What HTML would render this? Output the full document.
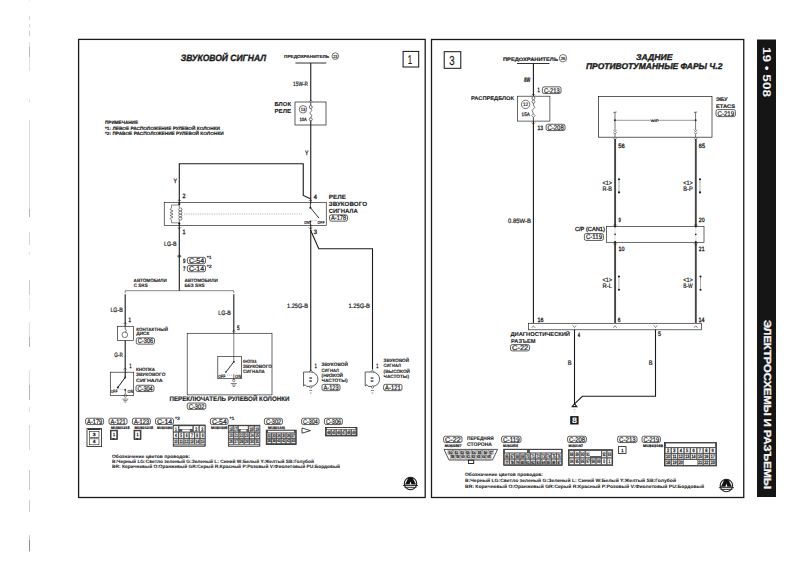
<!DOCTYPE html>
<html><head><meta charset="utf-8">
<style>
html,body{margin:0;padding:0;background:#fff;width:800px;height:580px;overflow:hidden}
svg{display:block;font-family:"Liberation Sans",sans-serif;text-rendering:geometricPrecision}
</style></head><body>
<svg width="800" height="580" viewBox="0 0 800 580">
<rect x="0" y="0" width="800" height="580" fill="#ffffff"/>

<polyline points="29.50,0.00 29.50,1.50" fill="none" stroke="#ddd" stroke-width="0.6" />
<polyline points="29.50,16.00 29.50,20.00" fill="none" stroke="#bbb" stroke-width="0.6" />
<polyline points="29.50,24.00 29.50,27.50" fill="none" stroke="#bbb" stroke-width="0.6" />
<polyline points="29.50,31.00 29.50,36.00" fill="none" stroke="#aaa" stroke-width="0.6" />
<polyline points="29.50,42.00 29.50,71.00" fill="none" stroke="#ccc" stroke-width="0.6" />
<polyline points="29.50,47.00 29.50,57.00" fill="none" stroke="#999" stroke-width="0.6" />
<polyline points="29.50,99.00 29.50,102.50" fill="none" stroke="#ccc" stroke-width="0.6" />
<polyline points="29.50,120.00 29.50,217.00" fill="none" stroke="#c4c4c4" stroke-width="0.6" />
<polyline points="29.50,209.00 29.50,217.00" fill="none" stroke="#999" stroke-width="0.6" />
<polyline points="29.50,232.00 29.50,245.00" fill="none" stroke="#bbb" stroke-width="0.6" />
<polyline points="29.50,252.00 29.50,255.00" fill="none" stroke="#ccc" stroke-width="0.6" />
<polyline points="29.50,280.00 29.50,295.00" fill="none" stroke="#aaa" stroke-width="0.6" />
<polyline points="29.50,297.00 29.50,310.00" fill="none" stroke="#d8d8d8" stroke-width="0.6" />
<polyline points="29.50,322.00 29.50,347.00" fill="none" stroke="#c8c8c8" stroke-width="0.6" />
<polyline points="29.50,337.00 29.50,347.00" fill="none" stroke="#999" stroke-width="0.6" />
<polyline points="29.50,370.00 29.50,400.00" fill="none" stroke="#c8c8c8" stroke-width="0.6" />
<polyline points="29.50,385.00 29.50,400.00" fill="none" stroke="#999" stroke-width="0.6" />
<polyline points="29.50,407.00 29.50,412.00" fill="none" stroke="#ccc" stroke-width="0.6" />
<polyline points="29.50,425.00 29.50,450.00" fill="none" stroke="#bbb" stroke-width="0.6" />
<polyline points="29.50,470.00 29.50,490.00" fill="none" stroke="#aaa" stroke-width="0.6" />
<polyline points="29.50,500.00 29.50,512.00" fill="none" stroke="#aaa" stroke-width="0.6" />
<polyline points="29.50,535.00 29.50,552.00" fill="none" stroke="#aaa" stroke-width="0.6" />
<polyline points="29.50,540.00 29.50,551.00" fill="none" stroke="#666" stroke-width="0.6" />
<rect x="78.60" y="39.40" width="346.60" height="458.10" fill="none" stroke="#1a1a1a" stroke-width="1.3" />
<rect x="431.50" y="39.50" width="312.25" height="458.00" fill="none" stroke="#1a1a1a" stroke-width="1.3" />
<rect x="757" y="39.5" width="19" height="457.5" fill="#151515"/>
<g transform="translate(766.5,72) rotate(90)"><text x="0" y="3.8" font-size="11.2" font-weight="bold" fill="#f4f4f4" text-anchor="middle" textLength="50" lengthAdjust="spacingAndGlyphs">19 • 508</text></g>
<g transform="translate(767.4,404.5) rotate(90)"><text x="0" y="3.6" font-size="10.2" font-weight="bold" fill="#f4f4f4" stroke="#f4f4f4" stroke-width="0.3" text-anchor="middle" textLength="169" lengthAdjust="spacingAndGlyphs">ЭЛЕКТРОСХЕМЫ И РАЗЪЕМЫ</text></g>
<rect x="403.10" y="51.40" width="15.60" height="15.60" fill="none" stroke="#111" stroke-width="1.0" />
<text x="407.80" y="63.88" font-size="12.8" font-weight="normal" font-style="normal" fill="#1a1a1a" stroke="#1a1a1a" stroke-width="0.2" textLength="4.40" lengthAdjust="spacingAndGlyphs" >1</text>
<rect x="444.20" y="51.70" width="16.60" height="16.60" fill="none" stroke="#111" stroke-width="1.0" />
<text x="449.20" y="64.65" font-size="13" font-weight="normal" font-style="normal" fill="#1a1a1a" stroke="#1a1a1a" stroke-width="0.2" textLength="5.40" lengthAdjust="spacingAndGlyphs" >3</text>
<text x="180.80" y="61.29" font-size="9.2" font-weight="bold" font-style="italic" fill="#1a1a1a" stroke="#1a1a1a" stroke-width="0.35" textLength="85.20" lengthAdjust="spacingAndGlyphs" >ЗВУКОВОЙ СИГНАЛ</text>
<text x="284.00" y="57.88" font-size="4.4" font-weight="bold" font-style="normal" fill="#1a1a1a" stroke="#1a1a1a" stroke-width="0.15" textLength="45.20" lengthAdjust="spacingAndGlyphs" >ПРЕДОХРАНИТЕЛЬ</text>
<circle cx="335.3" cy="56.1" r="3.3" fill="none" stroke="#1a1a1a" stroke-width="0.6"/>
<text x="333.25" y="57.60" font-size="4.2" font-weight="normal" font-style="normal" fill="#1a1a1a" stroke="#1a1a1a" stroke-width="0.2" textLength="4.09" lengthAdjust="spacingAndGlyphs" >23</text>
<polyline points="295.40,63.00 326.30,63.00" fill="none" stroke="#1a1a1a" stroke-width="0.9" />
<polyline points="310.75,63.00 310.75,101.00" fill="none" stroke="#1a1a1a" stroke-width="1.1" />
<text x="293.10" y="85.76" font-size="6.3" font-weight="normal" font-style="normal" fill="#1a1a1a" stroke="#1a1a1a" stroke-width="0.2" textLength="14.90" lengthAdjust="spacingAndGlyphs" >15W-R</text>
<rect x="295.00" y="102.00" width="31.00" height="23.00" fill="none" stroke="#1a1a1a" stroke-width="0.7" />
<text x="274.50" y="106.08" font-size="5.82" font-weight="bold" font-style="normal" fill="#1a1a1a" stroke="#1a1a1a" stroke-width="0.1" textLength="16.50" lengthAdjust="spacingAndGlyphs" >БЛОК</text>
<text x="274.50" y="113.08" font-size="5.82" font-weight="bold" font-style="normal" fill="#1a1a1a" stroke="#1a1a1a" stroke-width="0.1" textLength="16.50" lengthAdjust="spacingAndGlyphs" >РЕЛЕ</text>
<circle cx="303" cy="109.3" r="3.75" fill="none" stroke="#1a1a1a" stroke-width="0.6"/>
<text x="300.68" y="110.95" font-size="4.6" font-weight="normal" font-style="normal" fill="#1a1a1a" stroke="#1a1a1a" stroke-width="0.2" textLength="4.65" lengthAdjust="spacingAndGlyphs" >13</text>
<text x="299.60" y="120.72" font-size="4.8" font-weight="normal" font-style="normal" fill="#1a1a1a" stroke="#1a1a1a" stroke-width="0.25" textLength="7.20" lengthAdjust="spacingAndGlyphs" >10A</text>
<polyline points="310.75,102.00 310.75,105.50" fill="none" stroke="#1a1a1a" stroke-width="0.8" />
<circle cx="310.75" cy="107" r="1.5" fill="#fff" stroke="#1a1a1a" stroke-width="0.6"/>
<circle cx="310.75" cy="119.4" r="1.5" fill="#fff" stroke="#1a1a1a" stroke-width="0.6"/>
<polyline points="310.75,108.50 311.80,110.50 309.80,113.00 311.80,115.50 310.75,117.90" fill="none" stroke="#1a1a1a" stroke-width="0.6" />
<path d="M309.15,101.6 L310.75,100 L312.35,101.6" fill="none" stroke="#1a1a1a" stroke-width="0.55"/>
<polyline points="310.75,120.70 310.75,371.00" fill="none" stroke="#1a1a1a" stroke-width="1.1" />
<text x="305.00" y="155.22" font-size="6.2" font-weight="normal" font-style="normal" fill="#1a1a1a" stroke="#1a1a1a" stroke-width="0.3" textLength="3.50" lengthAdjust="spacingAndGlyphs" >Y</text>
<text x="173.50" y="182.72" font-size="6.2" font-weight="normal" font-style="normal" fill="#1a1a1a" stroke="#1a1a1a" stroke-width="0.3" textLength="3.50" lengthAdjust="spacingAndGlyphs" >Y</text>
<polyline points="179.30,290.70 179.30,163.75 303.25,163.75 303.25,195.50 310.50,198.75" fill="none" stroke="#1a1a1a" stroke-width="1.1" />
<rect x="164.25" y="202.50" width="162.00" height="23.00" fill="none" stroke="#1a1a1a" stroke-width="0.65" />
<polyline points="184.00,214.00 302.00,214.00" fill="none" stroke="#888" stroke-width="0.55" stroke-dasharray="1.3,1"/>
<rect x="177" y="205" width="5" height="18" fill="#fff"/>
<circle cx="179.3" cy="204" r="1.1" fill="#1a1a1a"/>
<circle cx="179.3" cy="223.5" r="1.1" fill="#1a1a1a"/>
<ellipse cx="180.3" cy="209.5" rx="1.6" ry="1.6" fill="none" stroke="#1a1a1a" stroke-width="0.55"/>
<ellipse cx="180.3" cy="212.5" rx="1.6" ry="1.6" fill="none" stroke="#1a1a1a" stroke-width="0.55"/>
<ellipse cx="180.3" cy="215.5" rx="1.6" ry="1.6" fill="none" stroke="#1a1a1a" stroke-width="0.55"/>
<ellipse cx="180.3" cy="218.5" rx="1.6" ry="1.6" fill="none" stroke="#1a1a1a" stroke-width="0.55"/>
<polyline points="179.30,204.00 179.30,207.80" fill="none" stroke="#1a1a1a" stroke-width="0.6" />
<polyline points="179.30,220.20 179.30,223.50" fill="none" stroke="#1a1a1a" stroke-width="0.6" />
<polyline points="179.30,205.00 171.50,205.00 171.50,208.00" fill="none" stroke="#1a1a1a" stroke-width="0.5" />
<polyline points="171.50,208.00 170.00,209.50 173.00,211.00 170.00,212.50 173.00,214.00 170.00,215.50 173.00,217.00 170.00,218.50 171.50,220.00" fill="none" stroke="#1a1a1a" stroke-width="0.55" />
<polyline points="171.50,220.00 171.50,222.80 179.30,222.80" fill="none" stroke="#1a1a1a" stroke-width="0.5" />
<path d="M177.70000000000002,201.1 L179.3,199.5 L180.9,201.1" fill="none" stroke="#1a1a1a" stroke-width="0.55"/>
<path d="M177.70000000000002,227.4 L179.3,229 L180.9,227.4" fill="none" stroke="#1a1a1a" stroke-width="0.55"/>
<text x="182.50" y="198.22" font-size="6.2" font-weight="normal" font-style="normal" fill="#1a1a1a" stroke="#1a1a1a" stroke-width="0.3" textLength="3.00" lengthAdjust="spacingAndGlyphs" >2</text>
<text x="182.50" y="234.22" font-size="6.2" font-weight="normal" font-style="normal" fill="#1a1a1a" stroke="#1a1a1a" stroke-width="0.3" textLength="3.00" lengthAdjust="spacingAndGlyphs" >1</text>
<rect x="308.5" y="203.5" width="4" height="21" fill="#fff"/>
<polyline points="310.40,202.30 310.40,207.70" fill="none" stroke="#1a1a1a" stroke-width="0.8" />
<circle cx="310.4" cy="207.7" r="1.0" fill="#1a1a1a"/>
<polyline points="310.40,207.70 318.90,218.00" fill="none" stroke="#1a1a1a" stroke-width="0.9" />
<text x="304.20" y="223.88" font-size="4.4" font-weight="bold" font-style="normal" fill="#1a1a1a" stroke="#1a1a1a" stroke-width="0.1" textLength="5.20" lengthAdjust="spacingAndGlyphs" >ON</text>
<text x="317.60" y="223.88" font-size="4.4" font-weight="bold" font-style="normal" fill="#1a1a1a" stroke="#1a1a1a" stroke-width="0.1" textLength="6.90" lengthAdjust="spacingAndGlyphs" >OFF</text>
<polyline points="311.50,220.50 317.00,220.50" fill="none" stroke="#666" stroke-width="0.5" stroke-dasharray="1,1"/>
<circle cx="310.4" cy="221.5" r="0.9" fill="#1a1a1a"/>
<polyline points="310.40,221.50 310.40,225.50" fill="none" stroke="#1a1a1a" stroke-width="0.8" />
<path d="M308.79999999999995,201.1 L310.4,199.5 L312.0,201.1" fill="none" stroke="#1a1a1a" stroke-width="0.55"/>
<path d="M308.79999999999995,227.4 L310.4,229 L312.0,227.4" fill="none" stroke="#1a1a1a" stroke-width="0.55"/>
<text x="313.70" y="198.72" font-size="6.2" font-weight="normal" font-style="normal" fill="#1a1a1a" stroke="#1a1a1a" stroke-width="0.3" textLength="3.20" lengthAdjust="spacingAndGlyphs" >4</text>
<text x="313.70" y="234.22" font-size="6.2" font-weight="normal" font-style="normal" fill="#1a1a1a" stroke="#1a1a1a" stroke-width="0.3" textLength="3.30" lengthAdjust="spacingAndGlyphs" >3</text>
<text x="328.75" y="198.71" font-size="6.16" font-weight="bold" font-style="normal" fill="#1a1a1a" stroke="#1a1a1a" stroke-width="0.1" textLength="17.25" lengthAdjust="spacingAndGlyphs" >РЕЛЕ</text>
<text x="328.75" y="206.01" font-size="6.16" font-weight="bold" font-style="normal" fill="#1a1a1a" stroke="#1a1a1a" stroke-width="0.1" textLength="38.25" lengthAdjust="spacingAndGlyphs" >ЗВУКОВОГО</text>
<text x="328.75" y="213.01" font-size="6.16" font-weight="bold" font-style="normal" fill="#1a1a1a" stroke="#1a1a1a" stroke-width="0.1" textLength="29.05" lengthAdjust="spacingAndGlyphs" >СИГНАЛА</text>
<rect x="329.50" y="214.85" width="18.00" height="6.3" rx="1.8" fill="none" stroke="#1a1a1a" stroke-width="0.7"/>
<text x="331.00" y="220.43" font-size="6.8" font-weight="normal" font-style="normal" fill="#1a1a1a" stroke="#1a1a1a" stroke-width="0.22" textLength="15.20" lengthAdjust="spacingAndGlyphs" >A-178</text>
<polyline points="310.50,230.00 318.75,248.75 372.50,248.75 372.50,369.50" fill="none" stroke="#1a1a1a" stroke-width="1.1" />
<text x="164.10" y="245.86" font-size="6.3" font-weight="normal" font-style="normal" fill="#1a1a1a" stroke="#1a1a1a" stroke-width="0.2" textLength="12.40" lengthAdjust="spacingAndGlyphs" >LG-B</text>
<circle cx="179.3" cy="256.2" r="1.3" fill="none" stroke="#1a1a1a" stroke-width="0.5"/>
<polyline points="177.30,256.20 181.30,256.20" fill="none" stroke="#1a1a1a" stroke-width="0.5" />
<text x="183.00" y="262.82" font-size="6.2" font-weight="normal" font-style="normal" fill="#1a1a1a" stroke="#1a1a1a" stroke-width="0.3" textLength="2.50" lengthAdjust="spacingAndGlyphs" >9</text>
<rect x="187.40" y="257.35" width="18.10" height="6.3" rx="1.8" fill="none" stroke="#1a1a1a" stroke-width="0.7"/>
<text x="188.90" y="262.93" font-size="6.8" font-weight="normal" font-style="normal" fill="#1a1a1a" stroke="#1a1a1a" stroke-width="0.22" textLength="15.30" lengthAdjust="spacingAndGlyphs" >C-54</text>
<text x="206.70" y="259.25" font-size="4.6" font-weight="normal" font-style="normal" fill="#1a1a1a" stroke="#1a1a1a" stroke-width="0.2" textLength="5.00" lengthAdjust="spacingAndGlyphs" >*1</text>
<text x="183.00" y="270.82" font-size="6.2" font-weight="normal" font-style="normal" fill="#1a1a1a" stroke="#1a1a1a" stroke-width="0.3" textLength="2.50" lengthAdjust="spacingAndGlyphs" >7</text>
<rect x="187.40" y="265.45" width="18.10" height="6.3" rx="1.8" fill="none" stroke="#1a1a1a" stroke-width="0.7"/>
<text x="188.90" y="271.03" font-size="6.8" font-weight="normal" font-style="normal" fill="#1a1a1a" stroke="#1a1a1a" stroke-width="0.22" textLength="15.30" lengthAdjust="spacingAndGlyphs" >C-14</text>
<text x="206.70" y="267.65" font-size="4.6" font-weight="normal" font-style="normal" fill="#1a1a1a" stroke="#1a1a1a" stroke-width="0.2" textLength="5.00" lengthAdjust="spacingAndGlyphs" >*2</text>
<text x="133.60" y="281.53" font-size="4.82" font-weight="bold" font-style="normal" fill="#1a1a1a" stroke="#1a1a1a" stroke-width="0.1" textLength="33.30" lengthAdjust="spacingAndGlyphs" >АВТОМОБИЛИ</text>
<text x="133.75" y="287.33" font-size="4.82" font-weight="bold" font-style="normal" fill="#1a1a1a" stroke="#1a1a1a" stroke-width="0.1" textLength="13.95" lengthAdjust="spacingAndGlyphs" >С SRS</text>
<text x="184.40" y="281.53" font-size="4.82" font-weight="bold" font-style="normal" fill="#1a1a1a" stroke="#1a1a1a" stroke-width="0.1" textLength="33.30" lengthAdjust="spacingAndGlyphs" >АВТОМОБИЛИ</text>
<text x="184.40" y="287.33" font-size="4.82" font-weight="bold" font-style="normal" fill="#1a1a1a" stroke="#1a1a1a" stroke-width="0.1" textLength="20.20" lengthAdjust="spacingAndGlyphs" >БЕЗ SRS</text>
<polyline points="125.20,293.00 125.20,290.70 233.80,290.70 233.80,293.00" fill="none" stroke="#333" stroke-width="0.6" />
<polyline points="125.20,294.30 125.20,326.30" fill="none" stroke="#1a1a1a" stroke-width="1.1" />
<text x="110.40" y="312.06" font-size="6.3" font-weight="normal" font-style="normal" fill="#1a1a1a" stroke="#1a1a1a" stroke-width="0.2" textLength="12.40" lengthAdjust="spacingAndGlyphs" >LG-B</text>
<text x="128.50" y="321.92" font-size="6.2" font-weight="normal" font-style="normal" fill="#1a1a1a" stroke="#1a1a1a" stroke-width="0.3" textLength="2.50" lengthAdjust="spacingAndGlyphs" >1</text>
<rect x="117.60" y="326.30" width="15.90" height="14.20" fill="none" stroke="#1a1a1a" stroke-width="0.65" />
<circle cx="124.8" cy="334.8" r="2.8" fill="none" stroke="#1a1a1a" stroke-width="0.6"/>
<path d="M125.2,326.3 L125.2,329 Q127.5,330.5 125.5,332.2" fill="none" stroke="#1a1a1a" stroke-width="0.6"/>
<path d="M123.60000000000001,324.1 L125.2,322.5 L126.8,324.1" fill="none" stroke="#1a1a1a" stroke-width="0.55"/>
<text x="136.25" y="330.63" font-size="4.82" font-weight="bold" font-style="normal" fill="#1a1a1a" stroke="#1a1a1a" stroke-width="0.1" textLength="31.75" lengthAdjust="spacingAndGlyphs" >КОНТАКТНЫЙ</text>
<text x="136.25" y="335.48" font-size="4.82" font-weight="bold" font-style="normal" fill="#1a1a1a" stroke="#1a1a1a" stroke-width="0.1" textLength="13.25" lengthAdjust="spacingAndGlyphs" >ДИСК</text>
<rect x="136.25" y="337.85" width="18.25" height="6.3" rx="1.8" fill="none" stroke="#1a1a1a" stroke-width="0.7"/>
<text x="137.75" y="343.43" font-size="6.8" font-weight="normal" font-style="normal" fill="#1a1a1a" stroke="#1a1a1a" stroke-width="0.22" textLength="15.45" lengthAdjust="spacingAndGlyphs" >C-306</text>
<polyline points="125.20,340.50 125.20,377.50" fill="none" stroke="#1a1a1a" stroke-width="1.1" />
<text x="114.20" y="357.06" font-size="6.3" font-weight="normal" font-style="normal" fill="#1a1a1a" stroke="#1a1a1a" stroke-width="0.2" textLength="8.60" lengthAdjust="spacingAndGlyphs" >G-R</text>
<text x="129.60" y="367.72" font-size="6.2" font-weight="normal" font-style="normal" fill="#1a1a1a" stroke="#1a1a1a" stroke-width="0.3" textLength="2.00" lengthAdjust="spacingAndGlyphs" >1</text>
<rect x="110.30" y="372.20" width="23.40" height="23.30" fill="none" stroke="#1a1a1a" stroke-width="0.65" />
<path d="M123.60000000000001,369.6 L125.2,368 L126.8,369.6" fill="none" stroke="#1a1a1a" stroke-width="0.55"/>
<circle cx="125.2" cy="377.5" r="0.9" fill="#1a1a1a"/>
<polyline points="125.20,377.40 117.80,387.50" fill="none" stroke="#1a1a1a" stroke-width="1.0" />
<circle cx="117.8" cy="387.5" r="1.0" fill="#1a1a1a"/>
<text x="110.80" y="393.45" font-size="4.6" font-weight="bold" font-style="normal" fill="#1a1a1a" stroke="#1a1a1a" stroke-width="0.1" textLength="6.60" lengthAdjust="spacingAndGlyphs" >OFF</text>
<text x="127.50" y="393.45" font-size="4.6" font-weight="bold" font-style="normal" fill="#1a1a1a" stroke="#1a1a1a" stroke-width="0.1" textLength="5.70" lengthAdjust="spacingAndGlyphs" >ON</text>
<polyline points="118.50,389.00 125.00,389.80" fill="none" stroke="#666" stroke-width="0.5" stroke-dasharray="1,1"/>
<circle cx="125.3" cy="389.8" r="0.9" fill="#1a1a1a"/>
<path d="M125.3,393.9 L127,395.7 L125.3,397.5 L123.6,395.7 Z" fill="none" stroke="#1a1a1a" stroke-width="0.55"/>
<polyline points="125.30,389.80 125.30,393.90" fill="none" stroke="#1a1a1a" stroke-width="0.6" />
<polyline points="122.30,399.10 128.30,399.10" fill="none" stroke="#1a1a1a" stroke-width="0.55" />
<polyline points="123.30,400.60 127.30,400.60" fill="none" stroke="#1a1a1a" stroke-width="0.55" />
<polyline points="124.30,402.10 126.30,402.10" fill="none" stroke="#1a1a1a" stroke-width="0.55" />
<text x="136.00" y="371.13" font-size="4.82" font-weight="bold" font-style="normal" fill="#1a1a1a" stroke="#1a1a1a" stroke-width="0.1" textLength="19.00" lengthAdjust="spacingAndGlyphs" >КНОПКА</text>
<text x="136.00" y="376.43" font-size="4.82" font-weight="bold" font-style="normal" fill="#1a1a1a" stroke="#1a1a1a" stroke-width="0.1" textLength="29.50" lengthAdjust="spacingAndGlyphs" >ЗВУКОВОГО</text>
<text x="136.00" y="382.13" font-size="4.82" font-weight="bold" font-style="normal" fill="#1a1a1a" stroke="#1a1a1a" stroke-width="0.1" textLength="26.60" lengthAdjust="spacingAndGlyphs" >СИГНАЛА</text>
<rect x="136.00" y="385.25" width="18.00" height="6.3" rx="1.8" fill="none" stroke="#1a1a1a" stroke-width="0.7"/>
<text x="137.50" y="390.83" font-size="6.8" font-weight="normal" font-style="normal" fill="#1a1a1a" stroke="#1a1a1a" stroke-width="0.22" textLength="15.20" lengthAdjust="spacingAndGlyphs" >C-304</text>
<polyline points="233.80,294.30 233.80,333.30" fill="none" stroke="#1a1a1a" stroke-width="1.1" />
<text x="218.30" y="315.46" font-size="6.3" font-weight="normal" font-style="normal" fill="#1a1a1a" stroke="#1a1a1a" stroke-width="0.2" textLength="12.40" lengthAdjust="spacingAndGlyphs" >LG-B</text>
<text x="236.90" y="330.32" font-size="6.2" font-weight="normal" font-style="normal" fill="#1a1a1a" stroke="#1a1a1a" stroke-width="0.3" textLength="2.60" lengthAdjust="spacingAndGlyphs" >5</text>
<rect x="187.20" y="333.30" width="84.80" height="61.60" fill="none" stroke="#1a1a1a" stroke-width="0.65" />
<path d="M232.20000000000002,331.6 L233.8,330 L235.4,331.6" fill="none" stroke="#1a1a1a" stroke-width="0.55"/>
<polyline points="233.80,333.30 233.80,361.80" fill="none" stroke="#1a1a1a" stroke-width="0.55" />
<rect x="217.80" y="356.60" width="23.80" height="22.10" fill="none" stroke="#1a1a1a" stroke-width="0.65" />
<circle cx="233.8" cy="361.8" r="0.9" fill="#1a1a1a"/>
<polyline points="233.80,361.80 225.90,372.10" fill="none" stroke="#1a1a1a" stroke-width="0.9" />
<circle cx="225.9" cy="372.1" r="0.8" fill="#1a1a1a"/>
<text x="218.30" y="378.35" font-size="4.6" font-weight="bold" font-style="normal" fill="#1a1a1a" stroke="#1a1a1a" stroke-width="0.1" textLength="7.20" lengthAdjust="spacingAndGlyphs" >OFF</text>
<text x="235.00" y="378.35" font-size="4.6" font-weight="bold" font-style="normal" fill="#1a1a1a" stroke="#1a1a1a" stroke-width="0.1" textLength="6.20" lengthAdjust="spacingAndGlyphs" >ON</text>
<polyline points="227.00,375.20 233.00,375.20" fill="none" stroke="#666" stroke-width="0.5" stroke-dasharray="1,1"/>
<polyline points="233.80,374.00 233.80,380.00" fill="none" stroke="#1a1a1a" stroke-width="0.6" />
<circle cx="233.8" cy="380.5" r="1.2" fill="none" stroke="#1a1a1a" stroke-width="0.5"/>
<polyline points="230.80,383.50 236.80,383.50" fill="none" stroke="#1a1a1a" stroke-width="0.55" />
<polyline points="231.80,385.00 235.80,385.00" fill="none" stroke="#1a1a1a" stroke-width="0.55" />
<polyline points="232.80,386.50 234.80,386.50" fill="none" stroke="#1a1a1a" stroke-width="0.55" />
<text x="243.00" y="363.33" font-size="4.82" font-weight="bold" font-style="normal" fill="#1a1a1a" stroke="#1a1a1a" stroke-width="0.1" textLength="13.50" lengthAdjust="spacingAndGlyphs" >КНОПКА</text>
<text x="243.00" y="368.03" font-size="4.82" font-weight="bold" font-style="normal" fill="#1a1a1a" stroke="#1a1a1a" stroke-width="0.1" textLength="29.00" lengthAdjust="spacingAndGlyphs" >ЗВУКОВОГО</text>
<text x="243.00" y="373.23" font-size="4.82" font-weight="bold" font-style="normal" fill="#1a1a1a" stroke="#1a1a1a" stroke-width="0.1" textLength="21.80" lengthAdjust="spacingAndGlyphs" >СИГНАЛА</text>
<text x="169.50" y="400.76" font-size="6.6" font-weight="bold" font-style="normal" fill="#1a1a1a" stroke="#1a1a1a" stroke-width="0.15" textLength="119.90" lengthAdjust="spacingAndGlyphs" >ПЕРЕКЛЮЧАТЕЛЬ РУЛЕВОЙ КОЛОНКИ</text>
<rect x="187.20" y="403.05" width="18.60" height="6.3" rx="1.8" fill="none" stroke="#1a1a1a" stroke-width="0.7"/>
<text x="188.70" y="408.63" font-size="6.8" font-weight="normal" font-style="normal" fill="#1a1a1a" stroke="#1a1a1a" stroke-width="0.22" textLength="15.80" lengthAdjust="spacingAndGlyphs" >C-302</text>
<text x="287.00" y="307.86" font-size="6.3" font-weight="normal" font-style="normal" fill="#1a1a1a" stroke="#1a1a1a" stroke-width="0.2" textLength="21.00" lengthAdjust="spacingAndGlyphs" >1.25G-B</text>
<text x="348.40" y="307.86" font-size="6.3" font-weight="normal" font-style="normal" fill="#1a1a1a" stroke="#1a1a1a" stroke-width="0.2" textLength="21.60" lengthAdjust="spacingAndGlyphs" >1.25G-B</text>
<path d="M303.55,372.0 L310.75,372.0 A7.2,7.2 0 0 1 310.75,386.4 L306.75,386.4 L305.25,384.7 L303.55,386.0 Z" fill="none" stroke="#1a1a1a" stroke-width="0.7"/>
<text x="309.15" y="378.93" font-size="2.6" font-weight="normal" font-style="normal" fill="#1a1a1a" stroke="#1a1a1a" stroke-width="0.15" textLength="2.60" lengthAdjust="spacingAndGlyphs" >33</text>
<text x="309.15" y="382.43" font-size="2.6" font-weight="normal" font-style="normal" fill="#1a1a1a" stroke="#1a1a1a" stroke-width="0.15" textLength="2.60" lengthAdjust="spacingAndGlyphs" >88</text>
<path d="M308.95,372.0 L310.75,370.0 L312.55,372.0" fill="none" stroke="#1a1a1a" stroke-width="0.55"/>
<circle cx="310.75" cy="387.0" r="1.2" fill="#fff" stroke="#1a1a1a" stroke-width="0.5"/>
<polyline points="309.25,390.50 312.25,390.50" fill="none" stroke="#1a1a1a" stroke-width="0.5" />
<polyline points="309.95,393.00 311.55,393.00" fill="none" stroke="#1a1a1a" stroke-width="0.5" />
<path d="M365.2,372.0 L372.4,372.0 A7.2,7.2 0 0 1 372.4,386.4 L368.4,386.4 L366.9,384.7 L365.2,386.0 Z" fill="none" stroke="#1a1a1a" stroke-width="0.7"/>
<text x="370.80" y="378.93" font-size="2.6" font-weight="normal" font-style="normal" fill="#1a1a1a" stroke="#1a1a1a" stroke-width="0.15" textLength="2.60" lengthAdjust="spacingAndGlyphs" >33</text>
<text x="370.80" y="382.43" font-size="2.6" font-weight="normal" font-style="normal" fill="#1a1a1a" stroke="#1a1a1a" stroke-width="0.15" textLength="2.60" lengthAdjust="spacingAndGlyphs" >88</text>
<path d="M370.59999999999997,372.0 L372.4,370.0 L374.2,372.0" fill="none" stroke="#1a1a1a" stroke-width="0.55"/>
<circle cx="372.4" cy="387.0" r="1.2" fill="#fff" stroke="#1a1a1a" stroke-width="0.5"/>
<polyline points="370.90,390.50 373.90,390.50" fill="none" stroke="#1a1a1a" stroke-width="0.5" />
<polyline points="371.60,393.00 373.20,393.00" fill="none" stroke="#1a1a1a" stroke-width="0.5" />
<text x="314.70" y="367.52" font-size="6.2" font-weight="normal" font-style="normal" fill="#1a1a1a" stroke="#1a1a1a" stroke-width="0.3" textLength="2.10" lengthAdjust="spacingAndGlyphs" >1</text>
<text x="376.20" y="367.52" font-size="6.2" font-weight="normal" font-style="normal" fill="#1a1a1a" stroke="#1a1a1a" stroke-width="0.3" textLength="2.10" lengthAdjust="spacingAndGlyphs" >1</text>
<text x="321.60" y="366.33" font-size="4.82" font-weight="bold" font-style="normal" fill="#1a1a1a" stroke="#1a1a1a" stroke-width="0.1" textLength="26.30" lengthAdjust="spacingAndGlyphs" >ЗВУКОВОЙ</text>
<text x="321.60" y="371.73" font-size="4.82" font-weight="bold" font-style="normal" fill="#1a1a1a" stroke="#1a1a1a" stroke-width="0.1" textLength="17.40" lengthAdjust="spacingAndGlyphs" >СИГНАЛ</text>
<text x="321.60" y="377.03" font-size="4.82" font-weight="bold" font-style="normal" fill="#1a1a1a" stroke="#1a1a1a" stroke-width="0.1" textLength="21.40" lengthAdjust="spacingAndGlyphs" >(НИЗКОЙ</text>
<text x="321.60" y="382.23" font-size="4.82" font-weight="bold" font-style="normal" fill="#1a1a1a" stroke="#1a1a1a" stroke-width="0.1" textLength="25.90" lengthAdjust="spacingAndGlyphs" >ЧАСТОТЫ)</text>
<rect x="322.00" y="384.35" width="18.00" height="6.3" rx="1.8" fill="none" stroke="#1a1a1a" stroke-width="0.7"/>
<text x="323.50" y="389.93" font-size="6.8" font-weight="normal" font-style="normal" fill="#1a1a1a" stroke="#1a1a1a" stroke-width="0.22" textLength="15.20" lengthAdjust="spacingAndGlyphs" >A-123</text>
<text x="383.60" y="361.73" font-size="4.82" font-weight="bold" font-style="normal" fill="#1a1a1a" stroke="#1a1a1a" stroke-width="0.1" textLength="25.40" lengthAdjust="spacingAndGlyphs" >ЗВУКОВОЙ</text>
<text x="383.60" y="367.23" font-size="4.82" font-weight="bold" font-style="normal" fill="#1a1a1a" stroke="#1a1a1a" stroke-width="0.1" textLength="17.40" lengthAdjust="spacingAndGlyphs" >СИГНАЛ</text>
<text x="383.60" y="372.73" font-size="4.82" font-weight="bold" font-style="normal" fill="#1a1a1a" stroke="#1a1a1a" stroke-width="0.1" textLength="26.40" lengthAdjust="spacingAndGlyphs" >(ВЫСОКОЙ</text>
<text x="383.60" y="378.23" font-size="4.82" font-weight="bold" font-style="normal" fill="#1a1a1a" stroke="#1a1a1a" stroke-width="0.1" textLength="25.40" lengthAdjust="spacingAndGlyphs" >ЧАСТОТЫ)</text>
<rect x="383.60" y="384.35" width="18.40" height="6.3" rx="1.8" fill="none" stroke="#1a1a1a" stroke-width="0.7"/>
<text x="385.10" y="389.93" font-size="6.8" font-weight="normal" font-style="normal" fill="#1a1a1a" stroke="#1a1a1a" stroke-width="0.22" textLength="15.60" lengthAdjust="spacingAndGlyphs" >A-121</text>
<text x="105.00" y="124.05" font-size="4.6" font-weight="bold" font-style="normal" fill="#1a1a1a" stroke="#1a1a1a" stroke-width="0.15" textLength="33.00" lengthAdjust="spacingAndGlyphs" >ПРИМЕЧАНИЕ</text>
<text x="105.00" y="129.65" font-size="4.6" font-weight="bold" font-style="normal" fill="#1a1a1a" stroke="#1a1a1a" stroke-width="0.15" textLength="115.00" lengthAdjust="spacingAndGlyphs" >*1: ЛЕВОЕ РАСПОЛОЖЕНИЕ РУЛЕВОЙ КОЛОНКИ</text>
<text x="105.00" y="134.75" font-size="4.6" font-weight="bold" font-style="normal" fill="#1a1a1a" stroke="#1a1a1a" stroke-width="0.15" textLength="118.75" lengthAdjust="spacingAndGlyphs" >*2: ПРАВОЕ РАСПОЛОЖЕНИЕ РУЛЕВОЙ КОЛОНКИ</text>
<rect x="85.60" y="418.25" width="18.00" height="6.3" rx="1.8" fill="none" stroke="#1a1a1a" stroke-width="0.7"/>
<text x="87.10" y="423.83" font-size="6.8" font-weight="normal" font-style="normal" fill="#1a1a1a" stroke="#1a1a1a" stroke-width="0.22" textLength="15.20" lengthAdjust="spacingAndGlyphs" >A-179</text>
<rect x="109.00" y="418.25" width="18.00" height="6.3" rx="1.8" fill="none" stroke="#1a1a1a" stroke-width="0.7"/>
<text x="110.50" y="423.83" font-size="6.8" font-weight="normal" font-style="normal" fill="#1a1a1a" stroke="#1a1a1a" stroke-width="0.22" textLength="15.20" lengthAdjust="spacingAndGlyphs" >A-121</text>
<rect x="132.40" y="418.25" width="18.00" height="6.3" rx="1.8" fill="none" stroke="#1a1a1a" stroke-width="0.7"/>
<text x="133.90" y="423.83" font-size="6.8" font-weight="normal" font-style="normal" fill="#1a1a1a" stroke="#1a1a1a" stroke-width="0.22" textLength="15.20" lengthAdjust="spacingAndGlyphs" >A-123</text>
<rect x="155.50" y="418.15" width="18.00" height="6.3" rx="1.8" fill="none" stroke="#1a1a1a" stroke-width="0.7"/>
<text x="157.00" y="423.73" font-size="6.8" font-weight="normal" font-style="normal" fill="#1a1a1a" stroke="#1a1a1a" stroke-width="0.22" textLength="15.20" lengthAdjust="spacingAndGlyphs" >C-14</text>
<text x="175.00" y="420.15" font-size="4.6" font-weight="normal" font-style="normal" fill="#1a1a1a" stroke="#1a1a1a" stroke-width="0.2" textLength="5.00" lengthAdjust="spacingAndGlyphs" >*2</text>
<rect x="210.40" y="418.25" width="17.60" height="6.3" rx="1.8" fill="none" stroke="#1a1a1a" stroke-width="0.7"/>
<text x="211.90" y="423.83" font-size="6.8" font-weight="normal" font-style="normal" fill="#1a1a1a" stroke="#1a1a1a" stroke-width="0.22" textLength="14.80" lengthAdjust="spacingAndGlyphs" >C-54</text>
<text x="229.50" y="420.15" font-size="4.6" font-weight="normal" font-style="normal" fill="#1a1a1a" stroke="#1a1a1a" stroke-width="0.2" textLength="5.00" lengthAdjust="spacingAndGlyphs" >*1</text>
<rect x="264.40" y="418.25" width="18.00" height="6.3" rx="1.8" fill="none" stroke="#1a1a1a" stroke-width="0.7"/>
<text x="265.90" y="423.83" font-size="6.8" font-weight="normal" font-style="normal" fill="#1a1a1a" stroke="#1a1a1a" stroke-width="0.22" textLength="15.20" lengthAdjust="spacingAndGlyphs" >C-302</text>
<rect x="301.60" y="418.25" width="17.40" height="6.3" rx="1.8" fill="none" stroke="#1a1a1a" stroke-width="0.7"/>
<text x="303.10" y="423.83" font-size="6.8" font-weight="normal" font-style="normal" fill="#1a1a1a" stroke="#1a1a1a" stroke-width="0.22" textLength="14.60" lengthAdjust="spacingAndGlyphs" >C-304</text>
<rect x="324.40" y="418.25" width="18.00" height="6.3" rx="1.8" fill="none" stroke="#1a1a1a" stroke-width="0.7"/>
<text x="325.90" y="423.83" font-size="6.8" font-weight="normal" font-style="normal" fill="#1a1a1a" stroke="#1a1a1a" stroke-width="0.22" textLength="15.20" lengthAdjust="spacingAndGlyphs" >C-306</text>
<rect x="87.00" y="428.60" width="14.60" height="18.00" fill="none" stroke="#1a1a1a" stroke-width="0.8" />
<rect x="89.50" y="431.50" width="9.50" height="6.00" fill="none" stroke="#1a1a1a" stroke-width="0.6" />
<rect x="89.50" y="438.80" width="9.50" height="6.00" fill="none" stroke="#1a1a1a" stroke-width="0.6" />
<text x="92.80" y="436.15" font-size="4.6" font-weight="normal" font-style="normal" fill="#1a1a1a" stroke="#1a1a1a" stroke-width="0.3" textLength="2.80" lengthAdjust="spacingAndGlyphs" >3</text>
<text x="92.80" y="443.45" font-size="4.6" font-weight="normal" font-style="normal" fill="#1a1a1a" stroke="#1a1a1a" stroke-width="0.3" textLength="2.80" lengthAdjust="spacingAndGlyphs" >4</text>
<polyline points="88.00,429.30 100.60,429.30" fill="none" stroke="#333" stroke-width="1.4" />
<rect x="110.40" y="430.20" width="7.00" height="9.20" fill="#5a5a5a" stroke="#1a1a1a" stroke-width="0.7"/>
<rect x="111.6" y="431.3" width="4.6" height="7" fill="#fff"/>
<text x="112.90" y="435.78" font-size="4.4" font-weight="normal" font-style="normal" fill="#1a1a1a" stroke="#1a1a1a" stroke-width="0.3" textLength="2.00" lengthAdjust="spacingAndGlyphs" >1</text>
<path d="M112,438.3 L113.5,439.8 L115,438.3 Z" fill="#1a1a1a"/>
<text x="111.00" y="429.29" font-size="3.6" font-weight="bold" font-style="normal" fill="#222" stroke="#222" stroke-width="0.2" textLength="18.50" lengthAdjust="spacingAndGlyphs" >MU801215</text>
<rect x="134.00" y="430.20" width="7.00" height="9.20" fill="#5a5a5a" stroke="#1a1a1a" stroke-width="0.7"/>
<rect x="135.2" y="431.3" width="4.6" height="7" fill="#fff"/>
<text x="136.50" y="435.78" font-size="4.4" font-weight="normal" font-style="normal" fill="#1a1a1a" stroke="#1a1a1a" stroke-width="0.3" textLength="2.00" lengthAdjust="spacingAndGlyphs" >1</text>
<path d="M135.6,438.3 L137.1,439.8 L138.6,438.3 Z" fill="#1a1a1a"/>
<text x="134.60" y="429.29" font-size="3.6" font-weight="bold" font-style="normal" fill="#222" stroke="#222" stroke-width="0.2" textLength="18.50" lengthAdjust="spacingAndGlyphs" >MU801215</text>
<text x="157.00" y="429.09" font-size="3.6" font-weight="bold" font-style="normal" fill="#222" stroke="#222" stroke-width="0.2" textLength="15.50" lengthAdjust="spacingAndGlyphs" >MU801893</text>
<text x="211.00" y="429.09" font-size="3.6" font-weight="bold" font-style="normal" fill="#222" stroke="#222" stroke-width="0.2" textLength="16.50" lengthAdjust="spacingAndGlyphs" >MU801895</text>
<text x="268.00" y="428.79" font-size="3.6" font-weight="bold" font-style="normal" fill="#222" stroke="#222" stroke-width="0.2" textLength="17.00" lengthAdjust="spacingAndGlyphs" >MU801443</text>
<rect x="173.20" y="425.00" width="32.00" height="21.20" fill="#5a5a5a" stroke="#1a1a1a" stroke-width="0.7"/>
<rect x="173.65" y="425.95" width="4.50" height="5.60" fill="#fff" stroke="#444" stroke-width="0.35"/>
<text x="175.90" y="430.54" font-size="5.00" text-anchor="middle" fill="#222" stroke="#222" stroke-width="0.3" textLength="1.80" lengthAdjust="spacingAndGlyphs">1</text>
<rect x="179.4" y="426.2" width="13" height="2.8" fill="#fff"/>
<rect x="182" y="429.2" width="8" height="2.6" fill="#fff" stroke="#444" stroke-width="0.35"/>
<rect x="193.65" y="425.95" width="5.10" height="5.60" fill="#fff" stroke="#444" stroke-width="0.35"/>
<text x="196.20" y="430.54" font-size="5.00" text-anchor="middle" fill="#222" stroke="#222" stroke-width="0.3" textLength="2.04" lengthAdjust="spacingAndGlyphs">2</text>
<rect x="199.65" y="425.95" width="5.10" height="5.60" fill="#fff" stroke="#444" stroke-width="0.35"/>
<text x="202.20" y="430.54" font-size="5.00" text-anchor="middle" fill="#222" stroke="#222" stroke-width="0.3" textLength="2.04" lengthAdjust="spacingAndGlyphs">3</text>
<rect x="173.65" y="432.45" width="4.43" height="5.60" fill="#fff" stroke="#444" stroke-width="0.35"/>
<text x="175.87" y="437.04" font-size="5.00" text-anchor="middle" fill="#222" stroke="#222" stroke-width="0.3" textLength="1.77" lengthAdjust="spacingAndGlyphs">4</text>
<rect x="178.98" y="432.45" width="4.43" height="5.60" fill="#fff" stroke="#444" stroke-width="0.35"/>
<text x="181.20" y="437.04" font-size="5.00" text-anchor="middle" fill="#222" stroke="#222" stroke-width="0.3" textLength="1.77" lengthAdjust="spacingAndGlyphs">5</text>
<rect x="184.32" y="432.45" width="4.43" height="5.60" fill="#fff" stroke="#444" stroke-width="0.35"/>
<text x="186.53" y="437.04" font-size="5.00" text-anchor="middle" fill="#222" stroke="#222" stroke-width="0.3" textLength="1.77" lengthAdjust="spacingAndGlyphs">6</text>
<rect x="189.65" y="432.45" width="4.43" height="5.60" fill="#fff" stroke="#444" stroke-width="0.35"/>
<text x="191.87" y="437.04" font-size="5.00" text-anchor="middle" fill="#222" stroke="#222" stroke-width="0.3" textLength="1.77" lengthAdjust="spacingAndGlyphs">7</text>
<rect x="194.98" y="432.45" width="4.43" height="5.60" fill="#fff" stroke="#444" stroke-width="0.35"/>
<text x="197.20" y="437.04" font-size="5.00" text-anchor="middle" fill="#222" stroke="#222" stroke-width="0.3" textLength="1.77" lengthAdjust="spacingAndGlyphs">8</text>
<rect x="200.32" y="432.45" width="4.43" height="5.60" fill="#fff" stroke="#444" stroke-width="0.35"/>
<text x="202.53" y="437.04" font-size="5.00" text-anchor="middle" fill="#222" stroke="#222" stroke-width="0.3" textLength="1.77" lengthAdjust="spacingAndGlyphs">9</text>
<rect x="173.65" y="438.95" width="4.43" height="5.10" fill="#fff" stroke="#444" stroke-width="0.35"/>
<text x="175.87" y="443.23" font-size="4.84" text-anchor="middle" fill="#222" stroke="#222" stroke-width="0.3" textLength="3.32" lengthAdjust="spacingAndGlyphs">10</text>
<rect x="178.98" y="438.95" width="4.43" height="5.10" fill="#fff" stroke="#444" stroke-width="0.35"/>
<text x="181.20" y="443.23" font-size="4.84" text-anchor="middle" fill="#222" stroke="#222" stroke-width="0.3" textLength="3.32" lengthAdjust="spacingAndGlyphs">11</text>
<rect x="184.32" y="438.95" width="4.43" height="5.10" fill="#fff" stroke="#444" stroke-width="0.35"/>
<text x="186.53" y="443.23" font-size="4.84" text-anchor="middle" fill="#222" stroke="#222" stroke-width="0.3" textLength="3.32" lengthAdjust="spacingAndGlyphs">12</text>
<rect x="189.65" y="438.95" width="4.43" height="5.10" fill="#fff" stroke="#444" stroke-width="0.35"/>
<text x="191.87" y="443.23" font-size="4.84" text-anchor="middle" fill="#222" stroke="#222" stroke-width="0.3" textLength="3.32" lengthAdjust="spacingAndGlyphs">13</text>
<rect x="194.98" y="438.95" width="4.43" height="5.10" fill="#fff" stroke="#444" stroke-width="0.35"/>
<text x="197.20" y="443.23" font-size="4.84" text-anchor="middle" fill="#222" stroke="#222" stroke-width="0.3" textLength="3.32" lengthAdjust="spacingAndGlyphs">14</text>
<rect x="200.32" y="438.95" width="4.43" height="5.10" fill="#fff" stroke="#444" stroke-width="0.35"/>
<text x="202.53" y="443.23" font-size="4.84" text-anchor="middle" fill="#222" stroke="#222" stroke-width="0.3" textLength="3.32" lengthAdjust="spacingAndGlyphs">15</text>
<rect x="174" y="444.6" width="30.4" height="1" fill="#ddd"/>
<rect x="228.30" y="425.20" width="31.60" height="21.00" fill="#5a5a5a" stroke="#1a1a1a" stroke-width="0.7"/>
<rect x="228.75" y="426.15" width="3.95" height="5.60" fill="#fff" stroke="#444" stroke-width="0.35"/>
<text x="230.72" y="430.74" font-size="5.00" text-anchor="middle" fill="#222" stroke="#222" stroke-width="0.3" textLength="2.96" lengthAdjust="spacingAndGlyphs">16</text>
<rect x="233.60" y="426.15" width="3.95" height="5.60" fill="#fff" stroke="#444" stroke-width="0.35"/>
<text x="235.57" y="430.74" font-size="5.00" text-anchor="middle" fill="#222" stroke="#222" stroke-width="0.3" textLength="2.96" lengthAdjust="spacingAndGlyphs">17</text>
<rect x="238.8" y="426.2" width="9" height="2.8" fill="#fff"/>
<rect x="240.5" y="429.2" width="6" height="2.6" fill="#fff" stroke="#444" stroke-width="0.35"/>
<rect x="248.95" y="426.15" width="4.80" height="5.60" fill="#fff" stroke="#444" stroke-width="0.35"/>
<text x="251.35" y="430.74" font-size="5.00" text-anchor="middle" fill="#222" stroke="#222" stroke-width="0.3" textLength="3.60" lengthAdjust="spacingAndGlyphs">18</text>
<rect x="254.65" y="426.15" width="4.80" height="5.60" fill="#fff" stroke="#444" stroke-width="0.35"/>
<text x="257.05" y="430.74" font-size="5.00" text-anchor="middle" fill="#222" stroke="#222" stroke-width="0.3" textLength="3.60" lengthAdjust="spacingAndGlyphs">19</text>
<rect x="228.75" y="432.65" width="4.37" height="5.60" fill="#fff" stroke="#444" stroke-width="0.35"/>
<text x="230.93" y="437.24" font-size="5.00" text-anchor="middle" fill="#222" stroke="#222" stroke-width="0.3" textLength="3.27" lengthAdjust="spacingAndGlyphs">20</text>
<rect x="234.02" y="432.65" width="4.37" height="5.60" fill="#fff" stroke="#444" stroke-width="0.35"/>
<text x="236.20" y="437.24" font-size="5.00" text-anchor="middle" fill="#222" stroke="#222" stroke-width="0.3" textLength="3.27" lengthAdjust="spacingAndGlyphs">21</text>
<rect x="239.28" y="432.65" width="4.37" height="5.60" fill="#fff" stroke="#444" stroke-width="0.35"/>
<text x="241.47" y="437.24" font-size="5.00" text-anchor="middle" fill="#222" stroke="#222" stroke-width="0.3" textLength="3.27" lengthAdjust="spacingAndGlyphs">22</text>
<rect x="244.55" y="432.65" width="4.37" height="5.60" fill="#fff" stroke="#444" stroke-width="0.35"/>
<text x="246.73" y="437.24" font-size="5.00" text-anchor="middle" fill="#222" stroke="#222" stroke-width="0.3" textLength="3.27" lengthAdjust="spacingAndGlyphs">23</text>
<rect x="249.82" y="432.65" width="4.37" height="5.60" fill="#fff" stroke="#444" stroke-width="0.35"/>
<text x="252.00" y="437.24" font-size="5.00" text-anchor="middle" fill="#222" stroke="#222" stroke-width="0.3" textLength="3.27" lengthAdjust="spacingAndGlyphs">24</text>
<rect x="255.08" y="432.65" width="4.37" height="5.60" fill="#fff" stroke="#444" stroke-width="0.35"/>
<text x="257.27" y="437.24" font-size="5.00" text-anchor="middle" fill="#222" stroke="#222" stroke-width="0.3" textLength="3.27" lengthAdjust="spacingAndGlyphs">25</text>
<rect x="228.75" y="439.15" width="4.37" height="5.10" fill="#fff" stroke="#444" stroke-width="0.35"/>
<text x="230.93" y="443.43" font-size="4.84" text-anchor="middle" fill="#222" stroke="#222" stroke-width="0.3" textLength="3.27" lengthAdjust="spacingAndGlyphs">26</text>
<rect x="234.02" y="439.15" width="4.37" height="5.10" fill="#fff" stroke="#444" stroke-width="0.35"/>
<text x="236.20" y="443.43" font-size="4.84" text-anchor="middle" fill="#222" stroke="#222" stroke-width="0.3" textLength="3.27" lengthAdjust="spacingAndGlyphs">27</text>
<rect x="239.28" y="439.15" width="4.37" height="5.10" fill="#fff" stroke="#444" stroke-width="0.35"/>
<text x="241.47" y="443.43" font-size="4.84" text-anchor="middle" fill="#222" stroke="#222" stroke-width="0.3" textLength="3.27" lengthAdjust="spacingAndGlyphs">28</text>
<rect x="244.55" y="439.15" width="4.37" height="5.10" fill="#fff" stroke="#444" stroke-width="0.35"/>
<text x="246.73" y="443.43" font-size="4.84" text-anchor="middle" fill="#222" stroke="#222" stroke-width="0.3" textLength="3.27" lengthAdjust="spacingAndGlyphs">29</text>
<rect x="249.82" y="439.15" width="4.37" height="5.10" fill="#fff" stroke="#444" stroke-width="0.35"/>
<text x="252.00" y="443.43" font-size="4.84" text-anchor="middle" fill="#222" stroke="#222" stroke-width="0.3" textLength="3.27" lengthAdjust="spacingAndGlyphs">30</text>
<rect x="255.08" y="439.15" width="4.37" height="5.10" fill="#fff" stroke="#444" stroke-width="0.35"/>
<text x="257.27" y="443.43" font-size="4.84" text-anchor="middle" fill="#222" stroke="#222" stroke-width="0.3" textLength="3.27" lengthAdjust="spacingAndGlyphs">31</text>
<rect x="229" y="444.8" width="30.2" height="1" fill="#ddd"/>
<rect x="266.20" y="430.10" width="30.00" height="14.50" fill="#5a5a5a" stroke="#1a1a1a" stroke-width="0.7"/>
<rect x="268" y="430.8" width="26" height="1.6" fill="#fff"/>
<rect x="267.25" y="433.05" width="3.90" height="4.90" fill="#fff" stroke="#444" stroke-width="0.35"/>
<text x="269.20" y="437.17" font-size="4.65" text-anchor="middle" fill="#222" stroke="#222" stroke-width="0.3" textLength="2.93" lengthAdjust="spacingAndGlyphs">32</text>
<rect x="272.05" y="433.05" width="3.90" height="4.90" fill="#fff" stroke="#444" stroke-width="0.35"/>
<text x="274.00" y="437.17" font-size="4.65" text-anchor="middle" fill="#222" stroke="#222" stroke-width="0.3" textLength="2.93" lengthAdjust="spacingAndGlyphs">33</text>
<rect x="276.85" y="433.05" width="3.90" height="4.90" fill="#fff" stroke="#444" stroke-width="0.35"/>
<text x="278.80" y="437.17" font-size="4.65" text-anchor="middle" fill="#222" stroke="#222" stroke-width="0.3" textLength="2.93" lengthAdjust="spacingAndGlyphs">34</text>
<rect x="281.65" y="433.05" width="3.90" height="4.90" fill="#fff" stroke="#444" stroke-width="0.35"/>
<text x="283.60" y="437.17" font-size="4.65" text-anchor="middle" fill="#222" stroke="#222" stroke-width="0.3" textLength="2.93" lengthAdjust="spacingAndGlyphs">35</text>
<rect x="286.45" y="433.05" width="3.90" height="4.90" fill="#fff" stroke="#444" stroke-width="0.35"/>
<text x="288.40" y="437.17" font-size="4.65" text-anchor="middle" fill="#222" stroke="#222" stroke-width="0.3" textLength="2.93" lengthAdjust="spacingAndGlyphs">36</text>
<rect x="291.25" y="433.05" width="3.90" height="4.90" fill="#fff" stroke="#444" stroke-width="0.35"/>
<text x="293.20" y="437.17" font-size="4.65" text-anchor="middle" fill="#222" stroke="#222" stroke-width="0.3" textLength="2.93" lengthAdjust="spacingAndGlyphs">37</text>
<rect x="267.25" y="438.85" width="3.90" height="4.30" fill="#fff" stroke="#444" stroke-width="0.35"/>
<text x="269.20" y="442.46" font-size="4.09" text-anchor="middle" fill="#222" stroke="#222" stroke-width="0.3" textLength="2.93" lengthAdjust="spacingAndGlyphs">38</text>
<rect x="272.05" y="438.85" width="3.90" height="4.30" fill="#fff" stroke="#444" stroke-width="0.35"/>
<text x="274.00" y="442.46" font-size="4.09" text-anchor="middle" fill="#222" stroke="#222" stroke-width="0.3" textLength="2.93" lengthAdjust="spacingAndGlyphs">39</text>
<rect x="276.85" y="438.85" width="3.90" height="4.30" fill="#fff" stroke="#444" stroke-width="0.35"/>
<text x="278.80" y="442.46" font-size="4.09" text-anchor="middle" fill="#222" stroke="#222" stroke-width="0.3" textLength="2.93" lengthAdjust="spacingAndGlyphs">40</text>
<rect x="281.65" y="438.85" width="3.90" height="4.30" fill="#fff" stroke="#444" stroke-width="0.35"/>
<text x="283.60" y="442.46" font-size="4.09" text-anchor="middle" fill="#222" stroke="#222" stroke-width="0.3" textLength="2.93" lengthAdjust="spacingAndGlyphs">41</text>
<rect x="286.45" y="438.85" width="3.90" height="4.30" fill="#fff" stroke="#444" stroke-width="0.35"/>
<text x="288.40" y="442.46" font-size="4.09" text-anchor="middle" fill="#222" stroke="#222" stroke-width="0.3" textLength="2.93" lengthAdjust="spacingAndGlyphs">42</text>
<rect x="291.25" y="438.85" width="3.90" height="4.30" fill="#fff" stroke="#444" stroke-width="0.35"/>
<text x="293.20" y="442.46" font-size="4.09" text-anchor="middle" fill="#222" stroke="#222" stroke-width="0.3" textLength="2.93" lengthAdjust="spacingAndGlyphs">43</text>
<path d="M302,428 L310.5,430.6 L302,433.2 Z" fill="#fff" stroke="#1a1a1a" stroke-width="0.8"/>
<rect x="325.60" y="427.40" width="31.40" height="8.60" fill="#5a5a5a" stroke="#1a1a1a" stroke-width="0.7"/>
<rect x="327" y="428" width="28.5" height="1.3" fill="#fff"/>
<rect x="326.65" y="429.75" width="4.13" height="5.20" fill="#fff" stroke="#444" stroke-width="0.35"/>
<text x="328.72" y="434.12" font-size="4.94" text-anchor="middle" fill="#222" stroke="#222" stroke-width="0.3" textLength="3.10" lengthAdjust="spacingAndGlyphs">44</text>
<rect x="331.68" y="429.75" width="4.13" height="5.20" fill="#fff" stroke="#444" stroke-width="0.35"/>
<text x="333.75" y="434.12" font-size="4.94" text-anchor="middle" fill="#222" stroke="#222" stroke-width="0.3" textLength="3.10" lengthAdjust="spacingAndGlyphs">45</text>
<rect x="336.72" y="429.75" width="4.13" height="5.20" fill="#fff" stroke="#444" stroke-width="0.35"/>
<text x="338.78" y="434.12" font-size="4.94" text-anchor="middle" fill="#222" stroke="#222" stroke-width="0.3" textLength="3.10" lengthAdjust="spacingAndGlyphs">46</text>
<rect x="341.75" y="429.75" width="4.13" height="5.20" fill="#fff" stroke="#444" stroke-width="0.35"/>
<text x="343.82" y="434.12" font-size="4.94" text-anchor="middle" fill="#222" stroke="#222" stroke-width="0.3" textLength="3.10" lengthAdjust="spacingAndGlyphs">47</text>
<rect x="346.78" y="429.75" width="4.13" height="5.20" fill="#fff" stroke="#444" stroke-width="0.35"/>
<text x="348.85" y="434.12" font-size="4.94" text-anchor="middle" fill="#222" stroke="#222" stroke-width="0.3" textLength="3.10" lengthAdjust="spacingAndGlyphs">48</text>
<rect x="351.82" y="429.75" width="4.13" height="5.20" fill="#fff" stroke="#444" stroke-width="0.35"/>
<text x="353.88" y="434.12" font-size="4.94" text-anchor="middle" fill="#222" stroke="#222" stroke-width="0.3" textLength="3.10" lengthAdjust="spacingAndGlyphs">49</text>
<text x="112.00" y="457.72" font-size="4.8" font-weight="bold" font-style="normal" fill="#1a1a1a" stroke="#1a1a1a" stroke-width="0.05" textLength="78.00" lengthAdjust="spacingAndGlyphs" >Обозначение цветов проводов:</text>
<text x="112.00" y="463.12" font-size="4.8" font-weight="bold" font-style="normal" fill="#1a1a1a" stroke="#1a1a1a" stroke-width="0.05" textLength="202.00" lengthAdjust="spacingAndGlyphs" >B:Черный LG:Светло зеленый G:Зеленый L: Синий W:Белый Y:Желтый SB:Голубой</text>
<text x="112.00" y="468.32" font-size="4.8" font-weight="bold" font-style="normal" fill="#1a1a1a" stroke="#1a1a1a" stroke-width="0.05" textLength="228.00" lengthAdjust="spacingAndGlyphs" >BR: Коричневый O:Оранжевый GR:Серый R:Красный P:Розовый V:Фиолетовый PU:Бордовый</text>
<circle cx="410.5" cy="483.4" r="6.2" fill="none" stroke="#222" stroke-width="1.1"/>
<path d="M405.0,484.59999999999997 L408.5,477.4 L412.5,477.4 L416.0,484.59999999999997 Z" fill="#111"/>
<path d="M410.5,481.4 L409.5,484.59999999999997 L411.5,484.59999999999997 Z" fill="#fff"/>
<path d="M403.0,485.59999999999997 L418.0,485.59999999999997" stroke="#222" stroke-width="1"/>
<path d="M404.5,487.4 L416.5,487.4" stroke="#333" stroke-width="0.9"/>
<text x="636.00" y="59.51" font-size="8.4" font-weight="bold" font-style="italic" fill="#1a1a1a" stroke="#1a1a1a" stroke-width="0.35" textLength="36.40" lengthAdjust="spacingAndGlyphs" >ЗАДНИЕ</text>
<text x="586.00" y="69.21" font-size="8.4" font-weight="bold" font-style="italic" fill="#1a1a1a" stroke="#1a1a1a" stroke-width="0.35" textLength="136.40" lengthAdjust="spacingAndGlyphs" >ПРОТИВОТУМАННЫЕ ФАРЫ Ч.2</text>
<text x="503.00" y="60.54" font-size="5.0" font-weight="bold" font-style="normal" fill="#1a1a1a" stroke="#1a1a1a" stroke-width="0.15" textLength="55.00" lengthAdjust="spacingAndGlyphs" >ПРЕДОХРАНИТЕЛЬ</text>
<circle cx="563" cy="58.2" r="3.7" fill="none" stroke="#1a1a1a" stroke-width="0.6"/>
<text x="560.71" y="59.78" font-size="4.4" font-weight="normal" font-style="normal" fill="#1a1a1a" stroke="#1a1a1a" stroke-width="0.2" textLength="4.59" lengthAdjust="spacingAndGlyphs" >26</text>
<polyline points="517.00,63.50 549.50,63.50" fill="none" stroke="#1a1a1a" stroke-width="0.9" />
<polyline points="533.40,63.60 533.40,96.20" fill="none" stroke="#1a1a1a" stroke-width="1.1" />
<text x="523.90" y="81.76" font-size="6.6" font-weight="bold" font-style="normal" fill="#1a1a1a" stroke="#1a1a1a" stroke-width="0.2" textLength="6.40" lengthAdjust="spacingAndGlyphs" >8W</text>
<text x="537.50" y="92.42" font-size="6.2" font-weight="normal" font-style="normal" fill="#1a1a1a" stroke="#1a1a1a" stroke-width="0.3" textLength="2.30" lengthAdjust="spacingAndGlyphs" >1</text>
<rect x="542.40" y="86.85" width="18.60" height="6.7" rx="1.8" fill="none" stroke="#1a1a1a" stroke-width="0.7"/>
<text x="543.90" y="92.63" font-size="6.8" font-weight="normal" font-style="normal" fill="#1a1a1a" stroke="#1a1a1a" stroke-width="0.22" textLength="15.80" lengthAdjust="spacingAndGlyphs" >C-213</text>
<rect x="517.50" y="96.20" width="32.40" height="24.90" fill="none" stroke="#1a1a1a" stroke-width="0.65" />
<text x="471.00" y="100.33" font-size="5.38" font-weight="bold" font-style="normal" fill="#1a1a1a" stroke="#1a1a1a" stroke-width="0.1" textLength="43.00" lengthAdjust="spacingAndGlyphs" >РАСПРЕДБЛОК</text>
<circle cx="525.6" cy="104.4" r="4.2" fill="none" stroke="#1a1a1a" stroke-width="0.6"/>
<text x="523.00" y="106.19" font-size="5.0" font-weight="normal" font-style="normal" fill="#1a1a1a" stroke="#1a1a1a" stroke-width="0.2" textLength="5.21" lengthAdjust="spacingAndGlyphs" >12</text>
<text x="521.60" y="116.49" font-size="5.0" font-weight="normal" font-style="normal" fill="#1a1a1a" stroke="#1a1a1a" stroke-width="0.25" textLength="8.30" lengthAdjust="spacingAndGlyphs" >15A</text>
<circle cx="533.4" cy="98.1" r="1.5" fill="#fff" stroke="#1a1a1a" stroke-width="0.55"/>
<circle cx="533.4" cy="101.6" r="1.5" fill="#fff" stroke="#1a1a1a" stroke-width="0.55"/>
<polyline points="533.40,103.10 533.40,105.00 534.80,107.50 532.00,110.50 533.40,113.80" fill="none" stroke="#1a1a1a" stroke-width="0.6" />
<path d="M533.4,113.8 L535.1,115.6 L533.4,117.4 L531.7,115.6 Z" fill="none" stroke="#1a1a1a" stroke-width="0.55"/>
<polyline points="533.40,117.40 533.40,121.10" fill="none" stroke="#1a1a1a" stroke-width="0.8" />
<path d="M531.6,95.3 L533.4,93.5 L535.1999999999999,95.3" fill="none" stroke="#1a1a1a" stroke-width="0.55"/>
<path d="M531.6,122.5 L533.4,124.3 L535.1999999999999,122.5" fill="none" stroke="#1a1a1a" stroke-width="0.55"/>
<polyline points="533.40,121.10 533.40,322.90" fill="none" stroke="#1a1a1a" stroke-width="1.1" />
<text x="537.40" y="129.62" font-size="6.2" font-weight="normal" font-style="normal" fill="#1a1a1a" stroke="#1a1a1a" stroke-width="0.3" textLength="5.60" lengthAdjust="spacingAndGlyphs" >13</text>
<rect x="546.10" y="124.25" width="18.90" height="6.3" rx="1.8" fill="none" stroke="#1a1a1a" stroke-width="0.7"/>
<text x="547.60" y="129.83" font-size="6.8" font-weight="normal" font-style="normal" fill="#1a1a1a" stroke="#1a1a1a" stroke-width="0.22" textLength="16.10" lengthAdjust="spacingAndGlyphs" >C-208</text>
<text x="508.00" y="223.26" font-size="6.3" font-weight="normal" font-style="normal" fill="#1a1a1a" stroke="#1a1a1a" stroke-width="0.2" textLength="23.00" lengthAdjust="spacingAndGlyphs" >0.85W-B</text>
<rect x="598.40" y="96.40" width="113.60" height="40.80" fill="none" stroke="#1a1a1a" stroke-width="0.7" />
<text x="716.00" y="100.86" font-size="5.2" font-weight="bold" font-style="normal" fill="#1a1a1a" stroke="#1a1a1a" stroke-width="0.15" textLength="11.60" lengthAdjust="spacingAndGlyphs" >ЭБУ</text>
<text x="716.00" y="107.96" font-size="5.2" font-weight="bold" font-style="normal" fill="#1a1a1a" stroke="#1a1a1a" stroke-width="0.15" textLength="19.10" lengthAdjust="spacingAndGlyphs" >ETACS</text>
<rect x="716.00" y="109.60" width="19.40" height="7" rx="1.8" fill="none" stroke="#1a1a1a" stroke-width="0.7"/>
<text x="717.50" y="115.53" font-size="6.8" font-weight="normal" font-style="normal" fill="#1a1a1a" stroke="#1a1a1a" stroke-width="0.22" textLength="16.60" lengthAdjust="spacingAndGlyphs" >C-219</text>
<polyline points="613.40,112.40 616.60,112.00" fill="none" stroke="#1a1a1a" stroke-width="0.6" />
<polyline points="615.00,112.20 615.00,130.00" fill="none" stroke="#1a1a1a" stroke-width="0.6" />
<circle cx="615" cy="120.3" r="0.95" fill="#1a1a1a"/>
<path d="M613.5,129.8 L615,131.8 L616.5,129.8 M613.5,132.3 L615,134.3 L616.5,132.3" fill="none" stroke="#1a1a1a" stroke-width="0.55"/>
<polyline points="615.00,134.30 615.00,137.20" fill="none" stroke="#1a1a1a" stroke-width="0.6" />
<polyline points="694.00,112.40 697.20,112.00" fill="none" stroke="#1a1a1a" stroke-width="0.6" />
<polyline points="695.60,112.20 695.60,130.00" fill="none" stroke="#1a1a1a" stroke-width="0.6" />
<circle cx="695.6" cy="120.3" r="0.95" fill="#1a1a1a"/>
<path d="M694.1,129.8 L695.6,131.8 L697.1,129.8 M694.1,132.3 L695.6,134.3 L697.1,132.3" fill="none" stroke="#1a1a1a" stroke-width="0.55"/>
<polyline points="695.60,134.30 695.60,137.20" fill="none" stroke="#1a1a1a" stroke-width="0.6" />
<polyline points="615.00,120.30 695.60,120.30" fill="none" stroke="#555" stroke-width="0.6" />
<rect x="650" y="118.5" width="9.5" height="3.6" fill="#fff"/>
<text x="650.50" y="121.79" font-size="3.6" font-weight="normal" font-style="normal" fill="#1a1a1a" stroke="#1a1a1a" stroke-width="0.2" textLength="8.50" lengthAdjust="spacingAndGlyphs" >W/P</text>
<text x="618.30" y="147.72" font-size="6.2" font-weight="normal" font-style="normal" fill="#1a1a1a" stroke="#1a1a1a" stroke-width="0.3" textLength="6.40" lengthAdjust="spacingAndGlyphs" >56</text>
<text x="698.80" y="147.72" font-size="6.2" font-weight="normal" font-style="normal" fill="#1a1a1a" stroke="#1a1a1a" stroke-width="0.3" textLength="6.20" lengthAdjust="spacingAndGlyphs" >65</text>
<polyline points="615.10,139.00 615.10,226.40" fill="none" stroke="#444" stroke-width="1.9" />
<polyline points="615.10,242.30 615.10,322.90" fill="none" stroke="#444" stroke-width="1.9" />
<path d="M613.3000000000001,137.79999999999998 L615.1,139.6 L616.9,137.79999999999998" fill="none" stroke="#1a1a1a" stroke-width="0.55"/>
<path d="M613.3000000000001,225.60000000000002 L615.1,223.8 L616.9,225.60000000000002" fill="none" stroke="#1a1a1a" stroke-width="0.55"/>
<path d="M613.3000000000001,243.39999999999998 L615.1,245.2 L616.9,243.39999999999998" fill="none" stroke="#1a1a1a" stroke-width="0.55"/>
<polyline points="695.80,139.00 695.80,226.40" fill="none" stroke="#444" stroke-width="1.9" />
<polyline points="695.80,242.30 695.80,322.90" fill="none" stroke="#444" stroke-width="1.9" />
<path d="M694.0,137.79999999999998 L695.8,139.6 L697.5999999999999,137.79999999999998" fill="none" stroke="#1a1a1a" stroke-width="0.55"/>
<path d="M694.0,225.60000000000002 L695.8,223.8 L697.5999999999999,225.60000000000002" fill="none" stroke="#1a1a1a" stroke-width="0.55"/>
<path d="M694.0,243.39999999999998 L695.8,245.2 L697.5999999999999,243.39999999999998" fill="none" stroke="#1a1a1a" stroke-width="0.55"/>
<text x="602.50" y="184.76" font-size="6.3" font-weight="normal" font-style="normal" fill="#1a1a1a" stroke="#1a1a1a" stroke-width="0.2" textLength="9.50" lengthAdjust="spacingAndGlyphs" >&lt;1&gt;</text>
<text x="602.50" y="191.13" font-size="6.5" font-weight="normal" font-style="normal" fill="#1a1a1a" stroke="#1a1a1a" stroke-width="0.2" textLength="9.50" lengthAdjust="spacingAndGlyphs" >R-B</text>
<text x="683.20" y="184.76" font-size="6.3" font-weight="normal" font-style="normal" fill="#1a1a1a" stroke="#1a1a1a" stroke-width="0.2" textLength="9.50" lengthAdjust="spacingAndGlyphs" >&lt;1&gt;</text>
<text x="683.20" y="191.13" font-size="6.5" font-weight="normal" font-style="normal" fill="#1a1a1a" stroke="#1a1a1a" stroke-width="0.2" textLength="9.50" lengthAdjust="spacingAndGlyphs" >B-P</text>
<text x="602.50" y="281.66" font-size="6.3" font-weight="normal" font-style="normal" fill="#1a1a1a" stroke="#1a1a1a" stroke-width="0.2" textLength="9.50" lengthAdjust="spacingAndGlyphs" >&lt;1&gt;</text>
<text x="602.50" y="288.13" font-size="6.5" font-weight="normal" font-style="normal" fill="#1a1a1a" stroke="#1a1a1a" stroke-width="0.2" textLength="9.50" lengthAdjust="spacingAndGlyphs" >R-L</text>
<text x="683.20" y="281.66" font-size="6.3" font-weight="normal" font-style="normal" fill="#1a1a1a" stroke="#1a1a1a" stroke-width="0.2" textLength="9.50" lengthAdjust="spacingAndGlyphs" >&lt;1&gt;</text>
<text x="683.20" y="288.13" font-size="6.5" font-weight="normal" font-style="normal" fill="#1a1a1a" stroke="#1a1a1a" stroke-width="0.2" textLength="9.50" lengthAdjust="spacingAndGlyphs" >B-W</text>
<polyline points="619.00,179.20 619.00,192.40" fill="none" stroke="#999" stroke-width="0.8" />
<circle cx="619" cy="179.2" r="1.05" fill="#1a1a1a"/>
<circle cx="619" cy="192.39999999999998" r="1.05" fill="#1a1a1a"/>
<polyline points="700.00,179.20 700.00,192.40" fill="none" stroke="#999" stroke-width="0.8" />
<circle cx="700" cy="179.2" r="1.05" fill="#1a1a1a"/>
<circle cx="700" cy="192.39999999999998" r="1.05" fill="#1a1a1a"/>
<polyline points="618.90,276.50 618.90,289.70" fill="none" stroke="#999" stroke-width="0.8" />
<circle cx="618.9" cy="276.5" r="1.05" fill="#1a1a1a"/>
<circle cx="618.9" cy="289.7" r="1.05" fill="#1a1a1a"/>
<polyline points="700.50,276.50 700.50,289.70" fill="none" stroke="#999" stroke-width="0.8" />
<circle cx="700.5" cy="276.5" r="1.05" fill="#1a1a1a"/>
<circle cx="700.5" cy="289.7" r="1.05" fill="#1a1a1a"/>
<text x="618.60" y="221.72" font-size="6.2" font-weight="normal" font-style="normal" fill="#1a1a1a" stroke="#1a1a1a" stroke-width="0.3" textLength="2.40" lengthAdjust="spacingAndGlyphs" >9</text>
<text x="698.80" y="221.72" font-size="6.2" font-weight="normal" font-style="normal" fill="#1a1a1a" stroke="#1a1a1a" stroke-width="0.3" textLength="5.70" lengthAdjust="spacingAndGlyphs" >20</text>
<rect x="606.40" y="226.40" width="97.60" height="15.90" fill="none" stroke="#1a1a1a" stroke-width="0.65" />
<polyline points="615.10,226.40 615.10,242.30" fill="none" stroke="#777" stroke-width="0.5" stroke-dasharray="1,1"/>
<circle cx="615.1" cy="226.6" r="1.0" fill="#1a1a1a"/>
<circle cx="615.1" cy="234.4" r="0.8" fill="#1a1a1a"/>
<circle cx="615.1" cy="242.1" r="1.0" fill="#1a1a1a"/>
<polyline points="695.80,226.40 695.80,242.30" fill="none" stroke="#777" stroke-width="0.5" stroke-dasharray="1,1"/>
<circle cx="695.8" cy="226.6" r="1.0" fill="#1a1a1a"/>
<circle cx="695.8" cy="234.4" r="0.8" fill="#1a1a1a"/>
<circle cx="695.8" cy="242.1" r="1.0" fill="#1a1a1a"/>
<text x="574.90" y="231.18" font-size="5.8" font-weight="normal" font-style="normal" fill="#1a1a1a" stroke="#1a1a1a" stroke-width="0.3" textLength="30.00" lengthAdjust="spacingAndGlyphs" >C/P (CAN1)</text>
<rect x="584.40" y="233.55" width="19.00" height="6.9" rx="1.8" fill="none" stroke="#1a1a1a" stroke-width="0.7"/>
<text x="585.90" y="239.43" font-size="6.8" font-weight="normal" font-style="normal" fill="#1a1a1a" stroke="#1a1a1a" stroke-width="0.22" textLength="16.20" lengthAdjust="spacingAndGlyphs" >C-119</text>
<text x="618.60" y="251.22" font-size="6.2" font-weight="normal" font-style="normal" fill="#1a1a1a" stroke="#1a1a1a" stroke-width="0.3" textLength="6.00" lengthAdjust="spacingAndGlyphs" >10</text>
<text x="698.80" y="251.22" font-size="6.2" font-weight="normal" font-style="normal" fill="#1a1a1a" stroke="#1a1a1a" stroke-width="0.3" textLength="5.70" lengthAdjust="spacingAndGlyphs" >21</text>
<rect x="528.50" y="323.30" width="172.90" height="6.50" fill="none" stroke="#1a1a1a" stroke-width="0.65" />
<path d="M531.6999999999999,327.8 L533.4,325.8 L535.1,327.8" fill="none" stroke="#1a1a1a" stroke-width="0.55"/>
<path d="M613.4,327.8 L615.1,325.8 L616.8000000000001,327.8" fill="none" stroke="#1a1a1a" stroke-width="0.55"/>
<path d="M694.0999999999999,327.8 L695.8,325.8 L697.5,327.8" fill="none" stroke="#1a1a1a" stroke-width="0.55"/>
<path d="M572.8,325.5 L574.5,327.5 L576.2,325.5" fill="none" stroke="#1a1a1a" stroke-width="0.55"/>
<path d="M653.8,325.5 L655.5,327.5 L657.2,325.5" fill="none" stroke="#1a1a1a" stroke-width="0.55"/>
<text x="537.50" y="321.92" font-size="6.2" font-weight="normal" font-style="normal" fill="#1a1a1a" stroke="#1a1a1a" stroke-width="0.3" textLength="6.00" lengthAdjust="spacingAndGlyphs" >16</text>
<text x="617.80" y="321.82" font-size="6.2" font-weight="normal" font-style="normal" fill="#1a1a1a" stroke="#1a1a1a" stroke-width="0.3" textLength="2.70" lengthAdjust="spacingAndGlyphs" >6</text>
<text x="698.50" y="321.82" font-size="6.2" font-weight="normal" font-style="normal" fill="#1a1a1a" stroke="#1a1a1a" stroke-width="0.3" textLength="6.00" lengthAdjust="spacingAndGlyphs" >14</text>
<text x="577.80" y="336.72" font-size="6.2" font-weight="normal" font-style="normal" fill="#1a1a1a" stroke="#1a1a1a" stroke-width="0.3" textLength="2.40" lengthAdjust="spacingAndGlyphs" >4</text>
<text x="658.00" y="336.22" font-size="6.2" font-weight="normal" font-style="normal" fill="#1a1a1a" stroke="#1a1a1a" stroke-width="0.3" textLength="3.00" lengthAdjust="spacingAndGlyphs" >5</text>
<polyline points="574.50,329.50 574.50,403.00" fill="none" stroke="#1a1a1a" stroke-width="1.1" />
<polyline points="655.50,329.50 655.50,396.30 582.40,396.30 574.50,403.80" fill="none" stroke="#1a1a1a" stroke-width="1.1" />
<path d="M572.2,406.6 L574.5,403.6 L576.8,406.6 Z" fill="none" stroke="#1a1a1a" stroke-width="1.1"/>
<polyline points="573.50,409.50 575.50,409.50" fill="none" stroke="#aaa" stroke-width="0.6" />
<polyline points="573.80,412.00 575.20,412.00" fill="none" stroke="#bbb" stroke-width="0.6" />
<rect x="570.2" y="416.1" width="8.4" height="8.4" fill="#1a1a1a"/>
<text x="571.90" y="423.16" font-size="8.0" font-weight="bold" font-style="normal" fill="#fff" stroke="#fff" stroke-width="0" textLength="5.00" lengthAdjust="spacingAndGlyphs" >8</text>
<text x="510.50" y="336.20" font-size="5.6" font-weight="bold" font-style="normal" fill="#1a1a1a" stroke="#1a1a1a" stroke-width="0.1" textLength="59.50" lengthAdjust="spacingAndGlyphs" >ДИАГНОСТИЧЕСКИЙ</text>
<text x="511.00" y="342.75" font-size="5.6" font-weight="bold" font-style="normal" fill="#1a1a1a" stroke="#1a1a1a" stroke-width="0.1" textLength="24.50" lengthAdjust="spacingAndGlyphs" >РАЗЪЕМ</text>
<rect x="510.50" y="344.60" width="19.00" height="6.3" rx="1.8" fill="none" stroke="#1a1a1a" stroke-width="0.7"/>
<text x="512.00" y="350.18" font-size="6.8" font-weight="normal" font-style="normal" fill="#1a1a1a" stroke="#1a1a1a" stroke-width="0.22" textLength="16.20" lengthAdjust="spacingAndGlyphs" >C-22</text>
<text x="567.70" y="364.83" font-size="6.5" font-weight="normal" font-style="normal" fill="#1a1a1a" stroke="#1a1a1a" stroke-width="0.2" textLength="3.80" lengthAdjust="spacingAndGlyphs" >B</text>
<text x="648.70" y="364.83" font-size="6.5" font-weight="normal" font-style="normal" fill="#1a1a1a" stroke="#1a1a1a" stroke-width="0.2" textLength="3.80" lengthAdjust="spacingAndGlyphs" >B</text>
<rect x="443.60" y="436.25" width="18.40" height="6.3" rx="1.8" fill="none" stroke="#1a1a1a" stroke-width="0.7"/>
<text x="445.10" y="441.83" font-size="6.8" font-weight="normal" font-style="normal" fill="#1a1a1a" stroke="#1a1a1a" stroke-width="0.22" textLength="15.60" lengthAdjust="spacingAndGlyphs" >C-22</text>
<text x="467.00" y="439.84" font-size="5.15" font-weight="bold" font-style="normal" fill="#1a1a1a" stroke="#1a1a1a" stroke-width="0.1" textLength="26.60" lengthAdjust="spacingAndGlyphs" >ПЕРЕДНЯЯ</text>
<text x="467.00" y="445.84" font-size="5.15" font-weight="bold" font-style="normal" fill="#1a1a1a" stroke="#1a1a1a" stroke-width="0.1" textLength="25.00" lengthAdjust="spacingAndGlyphs" >СТОРОНА</text>
<text x="444.80" y="447.49" font-size="3.6" font-weight="bold" font-style="normal" fill="#222" stroke="#222" stroke-width="0.2" textLength="16.60" lengthAdjust="spacingAndGlyphs" >MU802567</text>
<path d="M444,449.4 L497.6,449.4 L492.5,460 L449,460 Z" fill="#fff" stroke="#1a1a1a" stroke-width="0.75"/>
<rect x="447.95" y="450.35" width="4.91" height="3.90" fill="#fff" stroke="#444" stroke-width="0.35"/>
<text x="450.41" y="453.63" font-size="3.71" text-anchor="middle" fill="#222" stroke="#222" stroke-width="0.3" textLength="3.68" lengthAdjust="spacingAndGlyphs">50</text>
<rect x="453.76" y="450.35" width="4.91" height="3.90" fill="#fff" stroke="#444" stroke-width="0.35"/>
<text x="456.22" y="453.63" font-size="3.71" text-anchor="middle" fill="#222" stroke="#222" stroke-width="0.3" textLength="3.68" lengthAdjust="spacingAndGlyphs">51</text>
<rect x="459.57" y="450.35" width="4.91" height="3.90" fill="#fff" stroke="#444" stroke-width="0.35"/>
<text x="462.03" y="453.63" font-size="3.71" text-anchor="middle" fill="#222" stroke="#222" stroke-width="0.3" textLength="3.68" lengthAdjust="spacingAndGlyphs">52</text>
<rect x="465.39" y="450.35" width="4.91" height="3.90" fill="#fff" stroke="#444" stroke-width="0.35"/>
<text x="467.84" y="453.63" font-size="3.71" text-anchor="middle" fill="#222" stroke="#222" stroke-width="0.3" textLength="3.68" lengthAdjust="spacingAndGlyphs">53</text>
<rect x="471.20" y="450.35" width="4.91" height="3.90" fill="#fff" stroke="#444" stroke-width="0.35"/>
<text x="473.66" y="453.63" font-size="3.71" text-anchor="middle" fill="#222" stroke="#222" stroke-width="0.3" textLength="3.68" lengthAdjust="spacingAndGlyphs">54</text>
<rect x="477.01" y="450.35" width="4.91" height="3.90" fill="#fff" stroke="#444" stroke-width="0.35"/>
<text x="479.47" y="453.63" font-size="3.71" text-anchor="middle" fill="#222" stroke="#222" stroke-width="0.3" textLength="3.68" lengthAdjust="spacingAndGlyphs">55</text>
<rect x="482.82" y="450.35" width="4.91" height="3.90" fill="#fff" stroke="#444" stroke-width="0.35"/>
<text x="485.28" y="453.63" font-size="3.71" text-anchor="middle" fill="#222" stroke="#222" stroke-width="0.3" textLength="3.68" lengthAdjust="spacingAndGlyphs">56</text>
<rect x="488.64" y="450.35" width="4.91" height="3.90" fill="#fff" stroke="#444" stroke-width="0.35"/>
<text x="491.09" y="453.63" font-size="3.71" text-anchor="middle" fill="#222" stroke="#222" stroke-width="0.3" textLength="3.68" lengthAdjust="spacingAndGlyphs">57</text>
<rect x="450.45" y="455.15" width="4.29" height="3.90" fill="#fff" stroke="#444" stroke-width="0.35"/>
<text x="452.59" y="458.43" font-size="3.71" text-anchor="middle" fill="#222" stroke="#222" stroke-width="0.3" textLength="3.22" lengthAdjust="spacingAndGlyphs">58</text>
<rect x="455.64" y="455.15" width="4.29" height="3.90" fill="#fff" stroke="#444" stroke-width="0.35"/>
<text x="457.78" y="458.43" font-size="3.71" text-anchor="middle" fill="#222" stroke="#222" stroke-width="0.3" textLength="3.22" lengthAdjust="spacingAndGlyphs">59</text>
<rect x="460.82" y="455.15" width="4.29" height="3.90" fill="#fff" stroke="#444" stroke-width="0.35"/>
<text x="462.97" y="458.43" font-size="3.71" text-anchor="middle" fill="#222" stroke="#222" stroke-width="0.3" textLength="3.22" lengthAdjust="spacingAndGlyphs">60</text>
<rect x="466.01" y="455.15" width="4.29" height="3.90" fill="#fff" stroke="#444" stroke-width="0.35"/>
<text x="468.16" y="458.43" font-size="3.71" text-anchor="middle" fill="#222" stroke="#222" stroke-width="0.3" textLength="3.22" lengthAdjust="spacingAndGlyphs">61</text>
<rect x="471.20" y="455.15" width="4.29" height="3.90" fill="#fff" stroke="#444" stroke-width="0.35"/>
<text x="473.34" y="458.43" font-size="3.71" text-anchor="middle" fill="#222" stroke="#222" stroke-width="0.3" textLength="3.22" lengthAdjust="spacingAndGlyphs">62</text>
<rect x="476.39" y="455.15" width="4.29" height="3.90" fill="#fff" stroke="#444" stroke-width="0.35"/>
<text x="478.53" y="458.43" font-size="3.71" text-anchor="middle" fill="#222" stroke="#222" stroke-width="0.3" textLength="3.22" lengthAdjust="spacingAndGlyphs">63</text>
<rect x="481.57" y="455.15" width="4.29" height="3.90" fill="#fff" stroke="#444" stroke-width="0.35"/>
<text x="483.72" y="458.43" font-size="3.71" text-anchor="middle" fill="#222" stroke="#222" stroke-width="0.3" textLength="3.22" lengthAdjust="spacingAndGlyphs">64</text>
<rect x="486.76" y="455.15" width="4.29" height="3.90" fill="#fff" stroke="#444" stroke-width="0.35"/>
<text x="488.91" y="458.43" font-size="3.71" text-anchor="middle" fill="#222" stroke="#222" stroke-width="0.3" textLength="3.22" lengthAdjust="spacingAndGlyphs">65</text>
<rect x="468.40" y="460.20" width="5.30" height="3.30" fill="none" stroke="#1a1a1a" stroke-width="0.9" />
<rect x="501.60" y="436.25" width="19.40" height="6.3" rx="1.8" fill="none" stroke="#1a1a1a" stroke-width="0.7"/>
<text x="503.10" y="441.83" font-size="6.8" font-weight="normal" font-style="normal" fill="#1a1a1a" stroke="#1a1a1a" stroke-width="0.22" textLength="16.60" lengthAdjust="spacingAndGlyphs" >C-119</text>
<text x="503.00" y="446.79" font-size="3.6" font-weight="bold" font-style="normal" fill="#222" stroke="#222" stroke-width="0.2" textLength="15.00" lengthAdjust="spacingAndGlyphs" >MU802515</text>
<rect x="503.70" y="449.20" width="58.50" height="16.10" fill="#5a5a5a" stroke="#1a1a1a" stroke-width="0.7"/>
<rect x="505" y="450" width="22" height="2.4" fill="#fff"/>
<rect x="530" y="450" width="31" height="2.4" fill="#fff"/>
<rect x="504.65" y="453.25" width="4.33" height="5.30" fill="#fff" stroke="#444" stroke-width="0.35"/>
<text x="506.81" y="457.69" font-size="5.00" text-anchor="middle" fill="#222" stroke="#222" stroke-width="0.3" textLength="3.25" lengthAdjust="spacingAndGlyphs">66</text>
<rect x="509.88" y="453.25" width="4.33" height="5.30" fill="#fff" stroke="#444" stroke-width="0.35"/>
<text x="512.04" y="457.69" font-size="5.00" text-anchor="middle" fill="#222" stroke="#222" stroke-width="0.3" textLength="3.25" lengthAdjust="spacingAndGlyphs">67</text>
<rect x="515.10" y="453.25" width="4.33" height="5.30" fill="#fff" stroke="#444" stroke-width="0.35"/>
<text x="517.27" y="457.69" font-size="5.00" text-anchor="middle" fill="#222" stroke="#222" stroke-width="0.3" textLength="3.25" lengthAdjust="spacingAndGlyphs">68</text>
<rect x="520.33" y="453.25" width="4.33" height="5.30" fill="#fff" stroke="#444" stroke-width="0.35"/>
<text x="522.50" y="457.69" font-size="5.00" text-anchor="middle" fill="#222" stroke="#222" stroke-width="0.3" textLength="3.25" lengthAdjust="spacingAndGlyphs">69</text>
<rect x="525.56" y="453.25" width="4.33" height="5.30" fill="#fff" stroke="#444" stroke-width="0.35"/>
<text x="527.72" y="457.69" font-size="5.00" text-anchor="middle" fill="#222" stroke="#222" stroke-width="0.3" textLength="3.25" lengthAdjust="spacingAndGlyphs">70</text>
<rect x="530.79" y="453.25" width="4.33" height="5.30" fill="#fff" stroke="#444" stroke-width="0.35"/>
<text x="532.95" y="457.69" font-size="5.00" text-anchor="middle" fill="#222" stroke="#222" stroke-width="0.3" textLength="3.25" lengthAdjust="spacingAndGlyphs">71</text>
<rect x="536.01" y="453.25" width="4.33" height="5.30" fill="#fff" stroke="#444" stroke-width="0.35"/>
<text x="538.18" y="457.69" font-size="5.00" text-anchor="middle" fill="#222" stroke="#222" stroke-width="0.3" textLength="3.25" lengthAdjust="spacingAndGlyphs">72</text>
<rect x="541.24" y="453.25" width="4.33" height="5.30" fill="#fff" stroke="#444" stroke-width="0.35"/>
<text x="543.40" y="457.69" font-size="5.00" text-anchor="middle" fill="#222" stroke="#222" stroke-width="0.3" textLength="3.25" lengthAdjust="spacingAndGlyphs">73</text>
<rect x="546.47" y="453.25" width="4.33" height="5.30" fill="#fff" stroke="#444" stroke-width="0.35"/>
<text x="548.63" y="457.69" font-size="5.00" text-anchor="middle" fill="#222" stroke="#222" stroke-width="0.3" textLength="3.25" lengthAdjust="spacingAndGlyphs">74</text>
<rect x="551.70" y="453.25" width="4.33" height="5.30" fill="#fff" stroke="#444" stroke-width="0.35"/>
<text x="553.86" y="457.69" font-size="5.00" text-anchor="middle" fill="#222" stroke="#222" stroke-width="0.3" textLength="3.25" lengthAdjust="spacingAndGlyphs">75</text>
<rect x="556.92" y="453.25" width="4.33" height="5.30" fill="#fff" stroke="#444" stroke-width="0.35"/>
<text x="559.09" y="457.69" font-size="5.00" text-anchor="middle" fill="#222" stroke="#222" stroke-width="0.3" textLength="3.25" lengthAdjust="spacingAndGlyphs">76</text>
<rect x="504.65" y="459.45" width="4.33" height="4.90" fill="#fff" stroke="#444" stroke-width="0.35"/>
<text x="506.81" y="463.57" font-size="4.66" text-anchor="middle" fill="#222" stroke="#222" stroke-width="0.3" textLength="3.25" lengthAdjust="spacingAndGlyphs">77</text>
<rect x="509.88" y="459.45" width="4.33" height="4.90" fill="#fff" stroke="#444" stroke-width="0.35"/>
<text x="512.04" y="463.57" font-size="4.66" text-anchor="middle" fill="#222" stroke="#222" stroke-width="0.3" textLength="3.25" lengthAdjust="spacingAndGlyphs">78</text>
<rect x="515.10" y="459.45" width="4.33" height="4.90" fill="#fff" stroke="#444" stroke-width="0.35"/>
<text x="517.27" y="463.57" font-size="4.66" text-anchor="middle" fill="#222" stroke="#222" stroke-width="0.3" textLength="3.25" lengthAdjust="spacingAndGlyphs">79</text>
<rect x="520.33" y="459.45" width="4.33" height="4.90" fill="#fff" stroke="#444" stroke-width="0.35"/>
<text x="522.50" y="463.57" font-size="4.66" text-anchor="middle" fill="#222" stroke="#222" stroke-width="0.3" textLength="3.25" lengthAdjust="spacingAndGlyphs">80</text>
<rect x="525.56" y="459.45" width="4.33" height="4.90" fill="#fff" stroke="#444" stroke-width="0.35"/>
<text x="527.72" y="463.57" font-size="4.66" text-anchor="middle" fill="#222" stroke="#222" stroke-width="0.3" textLength="3.25" lengthAdjust="spacingAndGlyphs">81</text>
<rect x="530.79" y="459.45" width="4.33" height="4.90" fill="#fff" stroke="#444" stroke-width="0.35"/>
<text x="532.95" y="463.57" font-size="4.66" text-anchor="middle" fill="#222" stroke="#222" stroke-width="0.3" textLength="3.25" lengthAdjust="spacingAndGlyphs">82</text>
<rect x="536.01" y="459.45" width="4.33" height="4.90" fill="#fff" stroke="#444" stroke-width="0.35"/>
<text x="538.18" y="463.57" font-size="4.66" text-anchor="middle" fill="#222" stroke="#222" stroke-width="0.3" textLength="3.25" lengthAdjust="spacingAndGlyphs">83</text>
<rect x="541.24" y="459.45" width="4.33" height="4.90" fill="#fff" stroke="#444" stroke-width="0.35"/>
<text x="543.40" y="463.57" font-size="4.66" text-anchor="middle" fill="#222" stroke="#222" stroke-width="0.3" textLength="3.25" lengthAdjust="spacingAndGlyphs">84</text>
<rect x="546.47" y="459.45" width="4.33" height="4.90" fill="#fff" stroke="#444" stroke-width="0.35"/>
<text x="548.63" y="463.57" font-size="4.66" text-anchor="middle" fill="#222" stroke="#222" stroke-width="0.3" textLength="3.25" lengthAdjust="spacingAndGlyphs">85</text>
<rect x="551.70" y="459.45" width="4.33" height="4.90" fill="#fff" stroke="#444" stroke-width="0.35"/>
<text x="553.86" y="463.57" font-size="4.66" text-anchor="middle" fill="#222" stroke="#222" stroke-width="0.3" textLength="3.25" lengthAdjust="spacingAndGlyphs">86</text>
<rect x="556.92" y="459.45" width="4.33" height="4.90" fill="#fff" stroke="#444" stroke-width="0.35"/>
<text x="559.09" y="463.57" font-size="4.66" text-anchor="middle" fill="#222" stroke="#222" stroke-width="0.3" textLength="3.25" lengthAdjust="spacingAndGlyphs">87</text>
<rect x="567.60" y="436.25" width="18.80" height="6.3" rx="1.8" fill="none" stroke="#1a1a1a" stroke-width="0.7"/>
<text x="569.10" y="441.83" font-size="6.8" font-weight="normal" font-style="normal" fill="#1a1a1a" stroke="#1a1a1a" stroke-width="0.22" textLength="16.00" lengthAdjust="spacingAndGlyphs" >C-208</text>
<text x="568.40" y="446.79" font-size="3.6" font-weight="bold" font-style="normal" fill="#222" stroke="#222" stroke-width="0.2" textLength="14.60" lengthAdjust="spacingAndGlyphs" >MU801467</text>
<rect x="568.50" y="449.70" width="44.20" height="15.60" fill="#5a5a5a" stroke="#1a1a1a" stroke-width="0.7"/>
<rect x="569.45" y="450.95" width="4.50" height="6.40" fill="#fff" stroke="#444" stroke-width="0.35"/>
<text x="571.70" y="455.94" font-size="5.00" text-anchor="middle" fill="#222" stroke="#222" stroke-width="0.3" textLength="3.38" lengthAdjust="spacingAndGlyphs">88</text>
<rect x="574.85" y="450.95" width="4.50" height="6.40" fill="#fff" stroke="#444" stroke-width="0.35"/>
<text x="577.10" y="455.94" font-size="5.00" text-anchor="middle" fill="#222" stroke="#222" stroke-width="0.3" textLength="3.38" lengthAdjust="spacingAndGlyphs">89</text>
<rect x="580.25" y="450.95" width="4.50" height="6.40" fill="#fff" stroke="#444" stroke-width="0.35"/>
<text x="582.50" y="455.94" font-size="5.00" text-anchor="middle" fill="#222" stroke="#222" stroke-width="0.3" textLength="3.38" lengthAdjust="spacingAndGlyphs">90</text>
<rect x="585.65" y="450.95" width="4.50" height="6.40" fill="#fff" stroke="#444" stroke-width="0.35"/>
<text x="587.90" y="455.94" font-size="5.00" text-anchor="middle" fill="#222" stroke="#222" stroke-width="0.3" textLength="3.38" lengthAdjust="spacingAndGlyphs">91</text>
<rect x="601.85" y="450.95" width="4.50" height="6.40" fill="#fff" stroke="#444" stroke-width="0.35"/>
<text x="604.10" y="455.94" font-size="5.00" text-anchor="middle" fill="#222" stroke="#222" stroke-width="0.3" textLength="3.38" lengthAdjust="spacingAndGlyphs">92</text>
<rect x="607.25" y="450.95" width="4.50" height="6.40" fill="#fff" stroke="#444" stroke-width="0.35"/>
<text x="609.50" y="455.94" font-size="5.00" text-anchor="middle" fill="#222" stroke="#222" stroke-width="0.3" textLength="3.38" lengthAdjust="spacingAndGlyphs">93</text>
<rect x="590" y="451" width="11" height="5" fill="#fff"/>
<rect x="569.45" y="458.25" width="4.50" height="6.10" fill="#fff" stroke="#444" stroke-width="0.35"/>
<text x="571.70" y="463.09" font-size="5.00" text-anchor="middle" fill="#222" stroke="#222" stroke-width="0.3" textLength="3.38" lengthAdjust="spacingAndGlyphs">94</text>
<rect x="574.85" y="458.25" width="4.50" height="6.10" fill="#fff" stroke="#444" stroke-width="0.35"/>
<text x="577.10" y="463.09" font-size="5.00" text-anchor="middle" fill="#222" stroke="#222" stroke-width="0.3" textLength="3.38" lengthAdjust="spacingAndGlyphs">95</text>
<rect x="580.25" y="458.25" width="4.50" height="6.10" fill="#fff" stroke="#444" stroke-width="0.35"/>
<text x="582.50" y="463.09" font-size="5.00" text-anchor="middle" fill="#222" stroke="#222" stroke-width="0.3" textLength="3.38" lengthAdjust="spacingAndGlyphs">96</text>
<rect x="585.65" y="458.25" width="4.50" height="6.10" fill="#fff" stroke="#444" stroke-width="0.35"/>
<text x="587.90" y="463.09" font-size="5.00" text-anchor="middle" fill="#222" stroke="#222" stroke-width="0.3" textLength="3.38" lengthAdjust="spacingAndGlyphs">97</text>
<rect x="591.05" y="458.25" width="4.50" height="6.10" fill="#fff" stroke="#444" stroke-width="0.35"/>
<text x="593.30" y="463.09" font-size="5.00" text-anchor="middle" fill="#222" stroke="#222" stroke-width="0.3" textLength="3.38" lengthAdjust="spacingAndGlyphs">98</text>
<rect x="596.45" y="458.25" width="4.50" height="6.10" fill="#fff" stroke="#444" stroke-width="0.35"/>
<text x="598.70" y="463.09" font-size="5.00" text-anchor="middle" fill="#222" stroke="#222" stroke-width="0.3" textLength="3.38" lengthAdjust="spacingAndGlyphs">99</text>
<rect x="601.85" y="458.25" width="4.50" height="6.10" fill="#fff" stroke="#444" stroke-width="0.35"/>
<text x="604.10" y="463.09" font-size="5.00" text-anchor="middle" fill="#222" stroke="#222" stroke-width="0.3" textLength="1.80" lengthAdjust="spacingAndGlyphs">0</text>
<rect x="607.25" y="458.25" width="4.50" height="6.10" fill="#fff" stroke="#444" stroke-width="0.35"/>
<text x="609.50" y="463.09" font-size="5.00" text-anchor="middle" fill="#222" stroke="#222" stroke-width="0.3" textLength="1.80" lengthAdjust="spacingAndGlyphs">1</text>
<rect x="617.60" y="436.25" width="19.40" height="6.3" rx="1.8" fill="none" stroke="#1a1a1a" stroke-width="0.7"/>
<text x="619.10" y="441.83" font-size="6.8" font-weight="normal" font-style="normal" fill="#1a1a1a" stroke="#1a1a1a" stroke-width="0.22" textLength="16.60" lengthAdjust="spacingAndGlyphs" >C-213</text>
<rect x="618.40" y="446.60" width="7.60" height="6.80" fill="none" stroke="#1a1a1a" stroke-width="0.8" />
<text x="621.20" y="451.58" font-size="4.4" font-weight="normal" font-style="normal" fill="#1a1a1a" stroke="#1a1a1a" stroke-width="0.3" textLength="2.20" lengthAdjust="spacingAndGlyphs" >1</text>
<rect x="642.00" y="436.25" width="18.40" height="6.3" rx="1.8" fill="none" stroke="#1a1a1a" stroke-width="0.7"/>
<text x="643.50" y="441.83" font-size="6.8" font-weight="normal" font-style="normal" fill="#1a1a1a" stroke="#1a1a1a" stroke-width="0.22" textLength="15.60" lengthAdjust="spacingAndGlyphs" >C-219</text>
<text x="643.00" y="446.79" font-size="3.6" font-weight="bold" font-style="normal" fill="#222" stroke="#222" stroke-width="0.2" textLength="20.00" lengthAdjust="spacingAndGlyphs" >MU803168</text>
<rect x="664.40" y="442.60" width="52.00" height="23.40" fill="#5a5a5a" stroke="#1a1a1a" stroke-width="0.7"/>
<rect x="666" y="443.5" width="49" height="3.5" fill="#fff"/>
<rect x="665.35" y="447.95" width="5.47" height="5.10" fill="#fff" stroke="#444" stroke-width="0.35"/>
<text x="668.09" y="452.23" font-size="4.84" text-anchor="middle" fill="#222" stroke="#222" stroke-width="0.3" textLength="2.19" lengthAdjust="spacingAndGlyphs">2</text>
<rect x="671.73" y="447.95" width="5.47" height="5.10" fill="#fff" stroke="#444" stroke-width="0.35"/>
<text x="674.46" y="452.23" font-size="4.84" text-anchor="middle" fill="#222" stroke="#222" stroke-width="0.3" textLength="2.19" lengthAdjust="spacingAndGlyphs">3</text>
<rect x="678.10" y="447.95" width="5.47" height="5.10" fill="#fff" stroke="#444" stroke-width="0.35"/>
<text x="680.84" y="452.23" font-size="4.84" text-anchor="middle" fill="#222" stroke="#222" stroke-width="0.3" textLength="2.19" lengthAdjust="spacingAndGlyphs">4</text>
<rect x="684.48" y="447.95" width="5.47" height="5.10" fill="#fff" stroke="#444" stroke-width="0.35"/>
<text x="687.21" y="452.23" font-size="4.84" text-anchor="middle" fill="#222" stroke="#222" stroke-width="0.3" textLength="2.19" lengthAdjust="spacingAndGlyphs">5</text>
<rect x="690.85" y="447.95" width="5.47" height="5.10" fill="#fff" stroke="#444" stroke-width="0.35"/>
<text x="693.59" y="452.23" font-size="4.84" text-anchor="middle" fill="#222" stroke="#222" stroke-width="0.3" textLength="2.19" lengthAdjust="spacingAndGlyphs">6</text>
<rect x="697.23" y="447.95" width="5.47" height="5.10" fill="#fff" stroke="#444" stroke-width="0.35"/>
<text x="699.96" y="452.23" font-size="4.84" text-anchor="middle" fill="#222" stroke="#222" stroke-width="0.3" textLength="2.19" lengthAdjust="spacingAndGlyphs">7</text>
<rect x="703.60" y="447.95" width="5.47" height="5.10" fill="#fff" stroke="#444" stroke-width="0.35"/>
<text x="706.34" y="452.23" font-size="4.84" text-anchor="middle" fill="#222" stroke="#222" stroke-width="0.3" textLength="2.19" lengthAdjust="spacingAndGlyphs">8</text>
<rect x="709.98" y="447.95" width="5.47" height="5.10" fill="#fff" stroke="#444" stroke-width="0.35"/>
<text x="712.71" y="452.23" font-size="4.84" text-anchor="middle" fill="#222" stroke="#222" stroke-width="0.3" textLength="2.19" lengthAdjust="spacingAndGlyphs">9</text>
<rect x="665.35" y="453.95" width="5.47" height="5.10" fill="#fff" stroke="#444" stroke-width="0.35"/>
<text x="668.09" y="458.23" font-size="4.84" text-anchor="middle" fill="#222" stroke="#222" stroke-width="0.3" textLength="4.11" lengthAdjust="spacingAndGlyphs">10</text>
<rect x="671.73" y="453.95" width="5.47" height="5.10" fill="#fff" stroke="#444" stroke-width="0.35"/>
<text x="674.46" y="458.23" font-size="4.84" text-anchor="middle" fill="#222" stroke="#222" stroke-width="0.3" textLength="4.11" lengthAdjust="spacingAndGlyphs">11</text>
<rect x="678.10" y="453.95" width="5.47" height="5.10" fill="#fff" stroke="#444" stroke-width="0.35"/>
<text x="680.84" y="458.23" font-size="4.84" text-anchor="middle" fill="#222" stroke="#222" stroke-width="0.3" textLength="4.11" lengthAdjust="spacingAndGlyphs">12</text>
<rect x="684.48" y="453.95" width="5.47" height="5.10" fill="#fff" stroke="#444" stroke-width="0.35"/>
<text x="687.21" y="458.23" font-size="4.84" text-anchor="middle" fill="#222" stroke="#222" stroke-width="0.3" textLength="4.11" lengthAdjust="spacingAndGlyphs">13</text>
<rect x="690.85" y="453.95" width="5.47" height="5.10" fill="#fff" stroke="#444" stroke-width="0.35"/>
<text x="693.59" y="458.23" font-size="4.84" text-anchor="middle" fill="#222" stroke="#222" stroke-width="0.3" textLength="4.11" lengthAdjust="spacingAndGlyphs">14</text>
<rect x="697.23" y="453.95" width="5.47" height="5.10" fill="#fff" stroke="#444" stroke-width="0.35"/>
<text x="699.96" y="458.23" font-size="4.84" text-anchor="middle" fill="#222" stroke="#222" stroke-width="0.3" textLength="4.11" lengthAdjust="spacingAndGlyphs">15</text>
<rect x="703.60" y="453.95" width="5.47" height="5.10" fill="#fff" stroke="#444" stroke-width="0.35"/>
<text x="706.34" y="458.23" font-size="4.84" text-anchor="middle" fill="#222" stroke="#222" stroke-width="0.3" textLength="4.11" lengthAdjust="spacingAndGlyphs">16</text>
<rect x="709.98" y="453.95" width="5.47" height="5.10" fill="#fff" stroke="#444" stroke-width="0.35"/>
<text x="712.71" y="458.23" font-size="4.84" text-anchor="middle" fill="#222" stroke="#222" stroke-width="0.3" textLength="4.11" lengthAdjust="spacingAndGlyphs">17</text>
<rect x="665.35" y="459.95" width="5.47" height="5.10" fill="#fff" stroke="#444" stroke-width="0.35"/>
<text x="668.09" y="464.23" font-size="4.84" text-anchor="middle" fill="#222" stroke="#222" stroke-width="0.3" textLength="4.11" lengthAdjust="spacingAndGlyphs">18</text>
<rect x="671.73" y="459.95" width="5.47" height="5.10" fill="#fff" stroke="#444" stroke-width="0.35"/>
<text x="674.46" y="464.23" font-size="4.84" text-anchor="middle" fill="#222" stroke="#222" stroke-width="0.3" textLength="4.11" lengthAdjust="spacingAndGlyphs">19</text>
<rect x="678.10" y="459.95" width="5.47" height="5.10" fill="#fff" stroke="#444" stroke-width="0.35"/>
<text x="680.84" y="464.23" font-size="4.84" text-anchor="middle" fill="#222" stroke="#222" stroke-width="0.3" textLength="4.11" lengthAdjust="spacingAndGlyphs">20</text>
<rect x="697.23" y="459.95" width="5.47" height="5.10" fill="#fff" stroke="#444" stroke-width="0.35"/>
<text x="699.96" y="464.23" font-size="4.84" text-anchor="middle" fill="#222" stroke="#222" stroke-width="0.3" textLength="4.11" lengthAdjust="spacingAndGlyphs">21</text>
<rect x="703.60" y="459.95" width="5.47" height="5.10" fill="#fff" stroke="#444" stroke-width="0.35"/>
<text x="706.34" y="464.23" font-size="4.84" text-anchor="middle" fill="#222" stroke="#222" stroke-width="0.3" textLength="4.11" lengthAdjust="spacingAndGlyphs">22</text>
<rect x="709.98" y="459.95" width="5.47" height="5.10" fill="#fff" stroke="#444" stroke-width="0.35"/>
<text x="712.71" y="464.23" font-size="4.84" text-anchor="middle" fill="#222" stroke="#222" stroke-width="0.3" textLength="4.11" lengthAdjust="spacingAndGlyphs">23</text>
<rect x="684" y="460" width="13" height="5" fill="#fff"/>
<text x="465.00" y="476.32" font-size="4.8" font-weight="bold" font-style="normal" fill="#1a1a1a" stroke="#1a1a1a" stroke-width="0.05" textLength="78.00" lengthAdjust="spacingAndGlyphs" >Обозначение цветов проводов:</text>
<text x="465.00" y="481.72" font-size="4.8" font-weight="bold" font-style="normal" fill="#1a1a1a" stroke="#1a1a1a" stroke-width="0.05" textLength="211.00" lengthAdjust="spacingAndGlyphs" >B:Черный LG:Светло зеленый G:Зеленый L: Синий W:Белый Y:Желтый SB:Голубой</text>
<text x="465.00" y="487.72" font-size="4.8" font-weight="bold" font-style="normal" fill="#1a1a1a" stroke="#1a1a1a" stroke-width="0.05" textLength="239.00" lengthAdjust="spacingAndGlyphs" >BR: Коричневый O:Оранжевый GR:Серый R:Красный P:Розовый V:Фиолетовый PU:Бордовый</text>
<circle cx="726.4" cy="485.5" r="6.2" fill="none" stroke="#222" stroke-width="1.1"/>
<path d="M720.9,486.7 L724.4,479.5 L728.4,479.5 L731.9,486.7 Z" fill="#111"/>
<path d="M726.4,483.5 L725.4,486.7 L727.4,486.7 Z" fill="#fff"/>
<path d="M718.9,487.7 L733.9,487.7" stroke="#222" stroke-width="1"/>
<path d="M720.4,489.5 L732.4,489.5" stroke="#333" stroke-width="0.9"/>
</svg></body></html>
